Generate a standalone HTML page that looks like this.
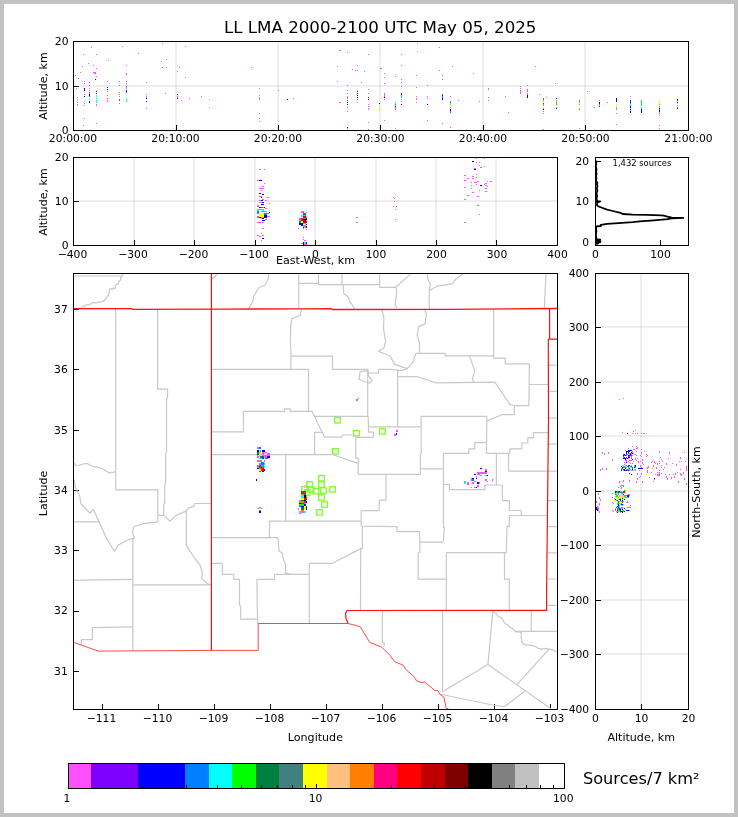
<!DOCTYPE html>
<html lang="en"><head><meta charset="utf-8"><title>LL LMA 2000-2100 UTC May 05, 2025</title>
<style>html,body{margin:0;padding:0;background:#c2c2c2;}body{width:738px;height:817px;overflow:hidden;position:relative;}#fig{position:absolute;left:4px;top:4px;width:730px;height:809px;background:#fff;}svg{position:absolute;left:0;top:0;will-change:transform;}svg text{font-family:"DejaVu Sans","Liberation Sans",sans-serif;fill:#000;}</style></head><body>
<div id="fig"></div>
<svg width="738" height="817" viewBox="0 0 738 817">
<text x="380.2" y="32.8" font-size="16.67" text-anchor="middle" >LL LMA 2000-2100 UTC May 05, 2025</text>
<line x1="176.00" y1="42.0" x2="176.00" y2="130.0" stroke="rgba(0,0,0,0.068)" stroke-width="2"/>
<line x1="278.00" y1="42.0" x2="278.00" y2="130.0" stroke="rgba(0,0,0,0.068)" stroke-width="2"/>
<line x1="380.00" y1="42.0" x2="380.00" y2="130.0" stroke="rgba(0,0,0,0.068)" stroke-width="2"/>
<line x1="483.00" y1="42.0" x2="483.00" y2="130.0" stroke="rgba(0,0,0,0.068)" stroke-width="2"/>
<line x1="585.00" y1="42.0" x2="585.00" y2="130.0" stroke="rgba(0,0,0,0.068)" stroke-width="2"/>
<line x1="79.0" y1="86.00" x2="688.0" y2="86.00" stroke="rgba(0,0,0,0.068)" stroke-width="2"/>
<g shape-rendering="crispEdges">
<rect x="77" y="97" width="1" height="1" fill="#ff50ff"/>
<rect x="77" y="99" width="1" height="1" fill="#00ffff"/>
<rect x="77" y="102" width="1" height="1" fill="#ff50ff"/>
<rect x="77" y="104" width="1" height="2" fill="#ff50ff"/>
<rect x="84" y="88" width="1" height="2" fill="#0000ff"/>
<rect x="84" y="90" width="1" height="1" fill="#0000ff"/>
<rect x="84" y="94" width="1" height="1" fill="#0080ff"/>
<rect x="84" y="96" width="1" height="1" fill="#0000ff"/>
<rect x="84" y="101" width="1" height="1" fill="#00ffff"/>
<rect x="84" y="103" width="1" height="1" fill="#ff50ff"/>
<rect x="84" y="105" width="1" height="1" fill="#ff50ff"/>
<rect x="84" y="81" width="1" height="1" fill="#ff50ff"/>
<rect x="84" y="83" width="1" height="1" fill="#ff50ff"/>
<rect x="89" y="88" width="1" height="1" fill="#ff50ff"/>
<rect x="89" y="90" width="1" height="1" fill="#ff50ff"/>
<rect x="89" y="92" width="1" height="2" fill="#ff50ff"/>
<rect x="89" y="94" width="1" height="2" fill="#0000ff"/>
<rect x="89" y="96" width="1" height="1" fill="#0080ff"/>
<rect x="89" y="99" width="1" height="1" fill="#00ffff"/>
<rect x="89" y="101" width="1" height="2" fill="#0000ff"/>
<rect x="89" y="82" width="1" height="1" fill="#ff50ff"/>
<rect x="89" y="85" width="1" height="1" fill="#ff50ff"/>
<rect x="96" y="91" width="1" height="1" fill="#0000ff"/>
<rect x="96" y="93" width="1" height="1" fill="#0000ff"/>
<rect x="96" y="95" width="1" height="2" fill="#00ffff"/>
<rect x="96" y="98" width="1" height="1" fill="#00ff00"/>
<rect x="96" y="100" width="1" height="2" fill="#00ffff"/>
<rect x="96" y="102" width="1" height="1" fill="#00ffff"/>
<rect x="96" y="104" width="1" height="2" fill="#ff50ff"/>
<rect x="107" y="87" width="1" height="1" fill="#0000ff"/>
<rect x="107" y="89" width="1" height="1" fill="#0000ff"/>
<rect x="107" y="91" width="1" height="1" fill="#ff50ff"/>
<rect x="107" y="95" width="1" height="1" fill="#ff50ff"/>
<rect x="107" y="98" width="1" height="1" fill="#ff50ff"/>
<rect x="107" y="100" width="1" height="2" fill="#ff50ff"/>
<rect x="107" y="81" width="1" height="1" fill="#ff50ff"/>
<rect x="119" y="92" width="1" height="1" fill="#ff50ff"/>
<rect x="119" y="94" width="1" height="1" fill="#ff50ff"/>
<rect x="119" y="96" width="1" height="1" fill="#ff50ff"/>
<rect x="119" y="99" width="1" height="2" fill="#0080ff"/>
<rect x="119" y="103" width="1" height="1" fill="#ff50ff"/>
<rect x="119" y="81" width="1" height="1" fill="#ff50ff"/>
<rect x="119" y="85" width="1" height="1" fill="#ff50ff"/>
<rect x="126" y="86" width="1" height="2" fill="#ff50ff"/>
<rect x="126" y="88" width="1" height="1" fill="#ff50ff"/>
<rect x="126" y="90" width="1" height="2" fill="#0000ff"/>
<rect x="126" y="92" width="1" height="1" fill="#0080ff"/>
<rect x="126" y="97" width="1" height="1" fill="#00ffff"/>
<rect x="126" y="99" width="1" height="2" fill="#00ffff"/>
<rect x="126" y="101" width="1" height="1" fill="#00ffff"/>
<rect x="126" y="65" width="1" height="1" fill="#ff50ff"/>
<rect x="126" y="74" width="1" height="1" fill="#ff50ff"/>
<rect x="126" y="81" width="1" height="1" fill="#ff50ff"/>
<rect x="126" y="83" width="1" height="1" fill="#ff50ff"/>
<rect x="146" y="94" width="1" height="1" fill="#ff50ff"/>
<rect x="146" y="96" width="1" height="2" fill="#ff50ff"/>
<rect x="146" y="98" width="1" height="1" fill="#0000ff"/>
<rect x="146" y="101" width="1" height="1" fill="#0000ff"/>
<rect x="146" y="82" width="1" height="1" fill="#ff50ff"/>
<rect x="146" y="108" width="1" height="1" fill="#ff50ff"/>
<rect x="177" y="94" width="1" height="1" fill="#0000ff"/>
<rect x="177" y="96" width="1" height="2" fill="#ff50ff"/>
<rect x="177" y="98" width="1" height="1" fill="#8000ff"/>
<rect x="259" y="95" width="1" height="1" fill="#ff50ff"/>
<rect x="259" y="97" width="1" height="2" fill="#ff50ff"/>
<rect x="259" y="99" width="1" height="1" fill="#ff50ff"/>
<rect x="259" y="88" width="1" height="1" fill="#ff50ff"/>
<rect x="259" y="113" width="1" height="1" fill="#ff50ff"/>
<rect x="259" y="121" width="1" height="1" fill="#ff50ff"/>
<rect x="347" y="96" width="1" height="2" fill="#ff50ff"/>
<rect x="347" y="98" width="1" height="1" fill="#ff50ff"/>
<rect x="347" y="100" width="1" height="1" fill="#408080"/>
<rect x="347" y="102" width="1" height="1" fill="#0000ff"/>
<rect x="347" y="104" width="1" height="1" fill="#0000ff"/>
<rect x="347" y="107" width="1" height="1" fill="#ff50ff"/>
<rect x="347" y="85" width="1" height="1" fill="#ff50ff"/>
<rect x="347" y="90" width="1" height="1" fill="#ff50ff"/>
<rect x="347" y="93" width="1" height="1" fill="#ff50ff"/>
<rect x="347" y="111" width="1" height="1" fill="#ff50ff"/>
<rect x="357" y="91" width="1" height="1" fill="#0000ff"/>
<rect x="357" y="93" width="1" height="1" fill="#0000ff"/>
<rect x="357" y="95" width="1" height="1" fill="#0000ff"/>
<rect x="357" y="97" width="1" height="1" fill="#0000ff"/>
<rect x="357" y="99" width="1" height="1" fill="#0080ff"/>
<rect x="357" y="102" width="1" height="1" fill="#ff50ff"/>
<rect x="368" y="97" width="1" height="1" fill="#0000ff"/>
<rect x="368" y="99" width="1" height="1" fill="#0000ff"/>
<rect x="368" y="101" width="1" height="1" fill="#ffff00"/>
<rect x="368" y="104" width="1" height="1" fill="#ff50ff"/>
<rect x="368" y="106" width="1" height="1" fill="#ff50ff"/>
<rect x="368" y="108" width="1" height="2" fill="#ff50ff"/>
<rect x="368" y="89" width="1" height="1" fill="#ff50ff"/>
<rect x="368" y="93" width="1" height="1" fill="#ff50ff"/>
<rect x="379" y="103" width="1" height="1" fill="#0000ff"/>
<rect x="379" y="105" width="1" height="1" fill="#ffff00"/>
<rect x="379" y="107" width="1" height="2" fill="#ffff00"/>
<rect x="379" y="109" width="1" height="1" fill="#00ffff"/>
<rect x="384" y="93" width="1" height="2" fill="#ff50ff"/>
<rect x="384" y="95" width="1" height="2" fill="#ff50ff"/>
<rect x="384" y="97" width="1" height="1" fill="#0000ff"/>
<rect x="384" y="99" width="1" height="1" fill="#ff50ff"/>
<rect x="395" y="102" width="1" height="1" fill="#00ffff"/>
<rect x="395" y="103" width="1" height="1" fill="#00ffff"/>
<rect x="395" y="104" width="1" height="1" fill="#00ff00"/>
<rect x="395" y="105" width="1" height="1" fill="#00ff00"/>
<rect x="395" y="106" width="1" height="1" fill="#0000ff"/>
<rect x="395" y="107" width="1" height="1" fill="#ff50ff"/>
<rect x="395" y="108" width="1" height="1" fill="#ff50ff"/>
<rect x="395" y="109" width="1" height="1" fill="#ff50ff"/>
<rect x="401" y="93" width="1" height="2" fill="#0000ff"/>
<rect x="401" y="95" width="1" height="2" fill="#00ff00"/>
<rect x="401" y="97" width="1" height="1" fill="#00ffff"/>
<rect x="401" y="99" width="1" height="1" fill="#ff50ff"/>
<rect x="401" y="101" width="1" height="1" fill="#ff50ff"/>
<rect x="401" y="104" width="1" height="1" fill="#0000ff"/>
<rect x="401" y="79" width="1" height="1" fill="#ff50ff"/>
<rect x="401" y="82" width="1" height="1" fill="#ff50ff"/>
<rect x="401" y="86" width="1" height="1" fill="#ff50ff"/>
<rect x="416" y="96" width="1" height="1" fill="#ff50ff"/>
<rect x="416" y="98" width="1" height="2" fill="#ff50ff"/>
<rect x="416" y="102" width="1" height="1" fill="#ff50ff"/>
<rect x="427" y="96" width="1" height="1" fill="#ff50ff"/>
<rect x="427" y="98" width="1" height="1" fill="#ff50ff"/>
<rect x="427" y="104" width="1" height="1" fill="#0000ff"/>
<rect x="442" y="94" width="1" height="1" fill="#0080ff"/>
<rect x="442" y="95" width="1" height="1" fill="#0000ff"/>
<rect x="442" y="96" width="1" height="1" fill="#0080ff"/>
<rect x="442" y="97" width="1" height="1" fill="#0080ff"/>
<rect x="442" y="98" width="1" height="1" fill="#0000ff"/>
<rect x="442" y="99" width="1" height="1" fill="#0000ff"/>
<rect x="450" y="101" width="1" height="1" fill="#408080"/>
<rect x="450" y="102" width="1" height="1" fill="#408080"/>
<rect x="450" y="103" width="1" height="1" fill="#00ffff"/>
<rect x="450" y="104" width="1" height="1" fill="#00ffff"/>
<rect x="450" y="105" width="1" height="1" fill="#ffff00"/>
<rect x="450" y="106" width="1" height="1" fill="#ffff00"/>
<rect x="450" y="107" width="1" height="1" fill="#ff8000"/>
<rect x="450" y="109" width="1" height="1" fill="#0000ff"/>
<rect x="450" y="110" width="1" height="1" fill="#0000ff"/>
<rect x="450" y="111" width="1" height="1" fill="#0080ff"/>
<rect x="450" y="112" width="1" height="1" fill="#0080ff"/>
<rect x="450" y="96" width="1" height="1" fill="#ff50ff"/>
<rect x="520" y="86" width="1" height="1" fill="#ff50ff"/>
<rect x="520" y="88" width="1" height="1" fill="#ff50ff"/>
<rect x="520" y="90" width="1" height="2" fill="#ff50ff"/>
<rect x="520" y="92" width="1" height="2" fill="#ff50ff"/>
<rect x="527" y="89" width="1" height="1" fill="#ff50ff"/>
<rect x="527" y="90" width="1" height="1" fill="#ff50ff"/>
<rect x="527" y="91" width="1" height="1" fill="#ff50ff"/>
<rect x="527" y="93" width="1" height="1" fill="#ff50ff"/>
<rect x="527" y="94" width="1" height="1" fill="#ff50ff"/>
<rect x="527" y="95" width="1" height="1" fill="#0000ff"/>
<rect x="527" y="96" width="1" height="1" fill="#0000ff"/>
<rect x="527" y="97" width="1" height="1" fill="#0000ff"/>
<rect x="527" y="85" width="1" height="1" fill="#ff50ff"/>
<rect x="543" y="98" width="1" height="1" fill="#408080"/>
<rect x="543" y="99" width="1" height="1" fill="#408080"/>
<rect x="543" y="100" width="1" height="1" fill="#00ff00"/>
<rect x="543" y="101" width="1" height="1" fill="#ffff00"/>
<rect x="543" y="102" width="1" height="1" fill="#ffff00"/>
<rect x="543" y="103" width="1" height="1" fill="#ff0000"/>
<rect x="543" y="104" width="1" height="1" fill="#ff8000"/>
<rect x="543" y="105" width="1" height="1" fill="#ff8000"/>
<rect x="543" y="106" width="1" height="1" fill="#ffff00"/>
<rect x="543" y="108" width="1" height="1" fill="#00ffff"/>
<rect x="543" y="109" width="1" height="1" fill="#0000ff"/>
<rect x="543" y="111" width="1" height="1" fill="#ff50ff"/>
<rect x="543" y="113" width="1" height="1" fill="#ff50ff"/>
<rect x="556" y="98" width="1" height="1" fill="#0000ff"/>
<rect x="556" y="100" width="1" height="1" fill="#00ffff"/>
<rect x="556" y="101" width="1" height="1" fill="#00ffff"/>
<rect x="556" y="102" width="1" height="1" fill="#ff8000"/>
<rect x="556" y="103" width="1" height="1" fill="#ff8000"/>
<rect x="556" y="104" width="1" height="1" fill="#ff8000"/>
<rect x="556" y="105" width="1" height="1" fill="#ffff00"/>
<rect x="556" y="107" width="1" height="1" fill="#00ffff"/>
<rect x="556" y="108" width="1" height="1" fill="#0000ff"/>
<rect x="579" y="100" width="1" height="1" fill="#ff50ff"/>
<rect x="579" y="101" width="1" height="1" fill="#ff50ff"/>
<rect x="579" y="102" width="1" height="1" fill="#ff50ff"/>
<rect x="579" y="103" width="1" height="1" fill="#ffff00"/>
<rect x="579" y="104" width="1" height="1" fill="#00ff00"/>
<rect x="579" y="106" width="1" height="1" fill="#ffff00"/>
<rect x="579" y="108" width="1" height="1" fill="#00ff00"/>
<rect x="579" y="109" width="1" height="1" fill="#ff50ff"/>
<rect x="599" y="100" width="1" height="1" fill="#ff50ff"/>
<rect x="599" y="102" width="1" height="2" fill="#0000ff"/>
<rect x="599" y="104" width="1" height="2" fill="#00ff00"/>
<rect x="599" y="106" width="1" height="1" fill="#008040"/>
<rect x="616" y="98" width="1" height="1" fill="#0000ff"/>
<rect x="616" y="99" width="1" height="1" fill="#0000ff"/>
<rect x="616" y="100" width="1" height="1" fill="#0000ff"/>
<rect x="616" y="101" width="1" height="1" fill="#0000ff"/>
<rect x="616" y="103" width="1" height="1" fill="#ffff00"/>
<rect x="616" y="104" width="1" height="1" fill="#ffff00"/>
<rect x="616" y="105" width="1" height="1" fill="#ffff00"/>
<rect x="616" y="106" width="1" height="1" fill="#ffff00"/>
<rect x="616" y="107" width="1" height="1" fill="#00ffff"/>
<rect x="616" y="108" width="1" height="1" fill="#ff50ff"/>
<rect x="616" y="109" width="1" height="1" fill="#ff50ff"/>
<rect x="616" y="113" width="1" height="1" fill="#ff50ff"/>
<rect x="630" y="100" width="1" height="1" fill="#0000ff"/>
<rect x="630" y="101" width="1" height="1" fill="#408080"/>
<rect x="630" y="102" width="1" height="1" fill="#0000ff"/>
<rect x="630" y="103" width="1" height="1" fill="#408080"/>
<rect x="630" y="104" width="1" height="1" fill="#00ffff"/>
<rect x="630" y="105" width="1" height="1" fill="#00ffff"/>
<rect x="630" y="106" width="1" height="1" fill="#0000ff"/>
<rect x="630" y="107" width="1" height="1" fill="#0000ff"/>
<rect x="630" y="108" width="1" height="1" fill="#00ffff"/>
<rect x="630" y="109" width="1" height="1" fill="#0000ff"/>
<rect x="630" y="110" width="1" height="1" fill="#ff50ff"/>
<rect x="630" y="111" width="1" height="1" fill="#0000ff"/>
<rect x="630" y="112" width="1" height="1" fill="#0000ff"/>
<rect x="630" y="96" width="1" height="1" fill="#ff50ff"/>
<rect x="641" y="100" width="1" height="1" fill="#00ff00"/>
<rect x="641" y="101" width="1" height="1" fill="#00ff00"/>
<rect x="641" y="102" width="1" height="1" fill="#00ff00"/>
<rect x="641" y="103" width="1" height="1" fill="#00ff00"/>
<rect x="641" y="104" width="1" height="1" fill="#00ff00"/>
<rect x="641" y="105" width="1" height="1" fill="#00ffff"/>
<rect x="641" y="107" width="1" height="1" fill="#00ffff"/>
<rect x="641" y="108" width="1" height="1" fill="#00ffff"/>
<rect x="641" y="109" width="1" height="1" fill="#0000ff"/>
<rect x="641" y="110" width="1" height="1" fill="#0000ff"/>
<rect x="641" y="111" width="1" height="1" fill="#0000ff"/>
<rect x="641" y="112" width="1" height="1" fill="#0000ff"/>
<rect x="659" y="100" width="1" height="1" fill="#ffff00"/>
<rect x="659" y="101" width="1" height="1" fill="#ffff00"/>
<rect x="659" y="102" width="1" height="1" fill="#ffff00"/>
<rect x="659" y="103" width="1" height="1" fill="#ffff00"/>
<rect x="659" y="104" width="1" height="1" fill="#ff8000"/>
<rect x="659" y="105" width="1" height="1" fill="#ffff00"/>
<rect x="659" y="106" width="1" height="1" fill="#ff8000"/>
<rect x="659" y="107" width="1" height="1" fill="#00ffff"/>
<rect x="659" y="108" width="1" height="1" fill="#0000ff"/>
<rect x="659" y="109" width="1" height="1" fill="#0080ff"/>
<rect x="659" y="110" width="1" height="1" fill="#0000ff"/>
<rect x="659" y="111" width="1" height="1" fill="#0000ff"/>
<rect x="659" y="112" width="1" height="1" fill="#ff50ff"/>
<rect x="659" y="113" width="1" height="1" fill="#ff50ff"/>
<rect x="659" y="115" width="1" height="1" fill="#ff50ff"/>
<rect x="677" y="99" width="1" height="1" fill="#0000ff"/>
<rect x="677" y="100" width="1" height="1" fill="#0000ff"/>
<rect x="677" y="101" width="1" height="1" fill="#ffff00"/>
<rect x="677" y="102" width="1" height="1" fill="#0000ff"/>
<rect x="677" y="103" width="1" height="1" fill="#ffff00"/>
<rect x="677" y="105" width="1" height="1" fill="#00ffff"/>
<rect x="677" y="107" width="1" height="1" fill="#ff50ff"/>
<rect x="677" y="108" width="1" height="1" fill="#0000ff"/>
<rect x="75" y="75" width="1" height="1" fill="#ff50ff"/>
<rect x="76" y="88" width="1" height="1" fill="#ff50ff"/>
<rect x="78" y="78" width="1" height="1" fill="#ff50ff"/>
<rect x="80" y="72" width="1" height="1" fill="#ff50ff"/>
<rect x="83" y="54" width="1" height="1" fill="#ff50ff"/>
<rect x="82" y="66" width="1" height="1" fill="#ff50ff"/>
<rect x="88" y="63" width="1" height="1" fill="#ff50ff"/>
<rect x="91" y="47" width="1" height="1" fill="#ff50ff"/>
<rect x="93" y="65" width="1" height="1" fill="#ff50ff"/>
<rect x="96" y="54" width="1" height="1" fill="#ff50ff"/>
<rect x="96" y="68" width="1" height="1" fill="#ff50ff"/>
<rect x="96" y="76" width="1" height="1" fill="#ff50ff"/>
<rect x="94" y="72" width="1" height="1" fill="#ff50ff"/>
<rect x="95" y="73" width="1" height="1" fill="#ff50ff"/>
<rect x="93" y="72" width="1" height="1" fill="#ff50ff"/>
<rect x="108" y="60" width="1" height="1" fill="#ff50ff"/>
<rect x="122" y="46" width="1" height="1" fill="#ff50ff"/>
<rect x="126" y="73" width="1" height="1" fill="#ff50ff"/>
<rect x="138" y="53" width="1" height="1" fill="#ff50ff"/>
<rect x="161" y="61" width="1" height="1" fill="#ff50ff"/>
<rect x="162" y="67" width="1" height="1" fill="#ff50ff"/>
<rect x="166" y="59" width="1" height="1" fill="#ff50ff"/>
<rect x="166" y="67" width="1" height="1" fill="#ff50ff"/>
<rect x="162" y="43" width="1" height="1" fill="#ff50ff"/>
<rect x="185" y="46" width="1" height="1" fill="#ff50ff"/>
<rect x="179" y="67" width="1" height="1" fill="#ff50ff"/>
<rect x="177" y="71" width="1" height="1" fill="#ff50ff"/>
<rect x="185" y="77" width="1" height="1" fill="#ff50ff"/>
<rect x="181" y="100" width="1" height="1" fill="#ff50ff"/>
<rect x="189" y="98" width="1" height="1" fill="#ff50ff"/>
<rect x="201" y="96" width="1" height="1" fill="#ff50ff"/>
<rect x="209" y="99" width="1" height="1" fill="#ff50ff"/>
<rect x="209" y="107" width="1" height="1" fill="#ff50ff"/>
<rect x="251" y="67" width="1" height="1" fill="#ff50ff"/>
<rect x="278" y="90" width="1" height="1" fill="#ff50ff"/>
<rect x="165" y="93" width="1" height="1" fill="#ff50ff"/>
<rect x="84" y="118" width="1" height="1" fill="#ff50ff"/>
<rect x="83" y="125" width="1" height="1" fill="#ff50ff"/>
<rect x="96" y="123" width="1" height="1" fill="#ff50ff"/>
<rect x="259" y="118" width="1" height="1" fill="#ff50ff"/>
<rect x="259" y="121" width="1" height="1" fill="#ff50ff"/>
<rect x="293" y="98" width="1" height="1" fill="#ff50ff"/>
<rect x="339" y="50" width="1" height="1" fill="#ff50ff"/>
<rect x="340" y="50" width="1" height="1" fill="#ff50ff"/>
<rect x="347" y="52" width="1" height="1" fill="#ff50ff"/>
<rect x="337" y="66" width="1" height="1" fill="#ff50ff"/>
<rect x="337" y="81" width="1" height="1" fill="#ff50ff"/>
<rect x="352" y="69" width="1" height="1" fill="#ff50ff"/>
<rect x="355" y="70" width="1" height="1" fill="#ff50ff"/>
<rect x="357" y="70" width="1" height="1" fill="#ff50ff"/>
<rect x="357" y="65" width="1" height="1" fill="#ff50ff"/>
<rect x="364" y="71" width="1" height="1" fill="#ff50ff"/>
<rect x="361" y="82" width="1" height="1" fill="#ff50ff"/>
<rect x="368" y="54" width="1" height="1" fill="#ff50ff"/>
<rect x="368" y="122" width="1" height="1" fill="#ff50ff"/>
<rect x="368" y="129" width="1" height="1" fill="#ff50ff"/>
<rect x="380" y="68" width="1" height="1" fill="#ff50ff"/>
<rect x="381" y="68" width="1" height="1" fill="#ff50ff"/>
<rect x="384" y="73" width="1" height="1" fill="#ff50ff"/>
<rect x="384" y="77" width="1" height="1" fill="#ff50ff"/>
<rect x="384" y="83" width="1" height="1" fill="#ff50ff"/>
<rect x="395" y="76" width="1" height="1" fill="#ff50ff"/>
<rect x="401" y="54" width="1" height="1" fill="#ff50ff"/>
<rect x="401" y="65" width="1" height="1" fill="#ff50ff"/>
<rect x="401" y="79" width="1" height="1" fill="#ff50ff"/>
<rect x="401" y="82" width="1" height="1" fill="#ff50ff"/>
<rect x="417" y="43" width="1" height="1" fill="#ff50ff"/>
<rect x="417" y="51" width="1" height="1" fill="#ff50ff"/>
<rect x="416" y="75" width="1" height="1" fill="#ff50ff"/>
<rect x="416" y="87" width="1" height="1" fill="#ff50ff"/>
<rect x="427" y="85" width="1" height="1" fill="#ff50ff"/>
<rect x="439" y="47" width="1" height="1" fill="#ff50ff"/>
<rect x="439" y="70" width="1" height="1" fill="#ff50ff"/>
<rect x="442" y="75" width="1" height="1" fill="#ff50ff"/>
<rect x="442" y="79" width="1" height="1" fill="#ff50ff"/>
<rect x="452" y="66" width="1" height="1" fill="#ff50ff"/>
<rect x="473" y="73" width="1" height="1" fill="#ff50ff"/>
<rect x="479" y="101" width="1" height="1" fill="#ff50ff"/>
<rect x="488" y="88" width="1" height="1" fill="#ff50ff"/>
<rect x="488" y="97" width="1" height="1" fill="#ff50ff"/>
<rect x="488" y="100" width="1" height="1" fill="#ff50ff"/>
<rect x="384" y="120" width="1" height="1" fill="#ff50ff"/>
<rect x="427" y="120" width="1" height="1" fill="#ff50ff"/>
<rect x="442" y="123" width="1" height="1" fill="#ff50ff"/>
<rect x="450" y="127" width="1" height="1" fill="#ff50ff"/>
<rect x="488" y="89" width="1" height="1" fill="#ff50ff"/>
<rect x="508" y="112" width="1" height="1" fill="#ff50ff"/>
<rect x="535" y="66" width="1" height="1" fill="#ff50ff"/>
<rect x="555" y="83" width="1" height="1" fill="#ff50ff"/>
<rect x="587" y="91" width="1" height="1" fill="#ff50ff"/>
<rect x="594" y="107" width="1" height="1" fill="#ff50ff"/>
<rect x="607" y="102" width="1" height="1" fill="#ff50ff"/>
<rect x="630" y="96" width="1" height="1" fill="#ff50ff"/>
<rect x="616" y="113" width="1" height="1" fill="#ff50ff"/>
<rect x="616" y="124" width="1" height="1" fill="#ff50ff"/>
<rect x="659" y="125" width="1" height="1" fill="#ff50ff"/>
<rect x="659" y="128" width="1" height="1" fill="#ff50ff"/>
<rect x="659" y="130" width="1" height="1" fill="#ff50ff"/>
<rect x="543" y="129" width="1" height="1" fill="#ff50ff"/>
<rect x="579" y="128" width="1" height="1" fill="#ff50ff"/>
<rect x="347" y="128" width="1" height="1" fill="#ff50ff"/>
<rect x="339" y="102" width="1" height="1" fill="#ff50ff"/>
<rect x="340" y="102" width="1" height="1" fill="#ff50ff"/>
<rect x="450" y="96" width="1" height="1" fill="#ff50ff"/>
<rect x="458" y="100" width="1" height="1" fill="#ff50ff"/>
<rect x="505" y="96" width="1" height="1" fill="#ff50ff"/>
<rect x="539" y="94" width="1" height="1" fill="#ff50ff"/>
<rect x="546" y="97" width="1" height="1" fill="#ff50ff"/>
<rect x="94" y="72" width="2" height="2" fill="#ff50ff"/>
<rect x="95" y="79" width="1" height="1" fill="#0000ff"/>
<rect x="287" y="99" width="1" height="1" fill="#0000ff"/>
<rect x="347" y="127" width="1" height="1" fill="#0000ff"/>
<rect x="395" y="128" width="1" height="1" fill="#00ff00"/>
</g>
<rect x="73.5" y="41.5" width="615" height="89" fill="none" stroke="#000" stroke-width="1" shape-rendering="crispEdges"/>
<text x="73.0" y="142.3" font-size="10.75" text-anchor="middle" >20:00:00</text>
<rect x="176" y="125" width="1" height="5" fill="#000"/>
<text x="175.5" y="142.3" font-size="10.75" text-anchor="middle" >20:10:00</text>
<rect x="278" y="125" width="1" height="5" fill="#000"/>
<text x="278.0" y="142.3" font-size="10.75" text-anchor="middle" >20:20:00</text>
<rect x="380" y="125" width="1" height="5" fill="#000"/>
<text x="380.5" y="142.3" font-size="10.75" text-anchor="middle" >20:30:00</text>
<rect x="483" y="125" width="1" height="5" fill="#000"/>
<text x="483.0" y="142.3" font-size="10.75" text-anchor="middle" >20:40:00</text>
<rect x="585" y="125" width="1" height="5" fill="#000"/>
<text x="585.5" y="142.3" font-size="10.75" text-anchor="middle" >20:50:00</text>
<text x="688.5" y="142.3" font-size="10.75" text-anchor="middle" >21:00:00</text>
<text x="68.5" y="44.9" font-size="10.75" text-anchor="end" >20</text>
<rect x="73" y="86" width="6" height="1" fill="#000"/>
<text x="68.5" y="89.5" font-size="10.75" text-anchor="end" >10</text>
<text x="68.5" y="133.9" font-size="10.75" text-anchor="end" >0</text>
<text x="47.0" y="86.0" font-size="11.1" text-anchor="middle" transform="rotate(-90 47.0 86.0)" >Altitude, km</text>
<line x1="134.00" y1="158.0" x2="134.00" y2="245.0" stroke="rgba(0,0,0,0.068)" stroke-width="2"/>
<line x1="194.00" y1="158.0" x2="194.00" y2="245.0" stroke="rgba(0,0,0,0.068)" stroke-width="2"/>
<line x1="255.00" y1="158.0" x2="255.00" y2="245.0" stroke="rgba(0,0,0,0.068)" stroke-width="2"/>
<line x1="315.00" y1="158.0" x2="315.00" y2="245.0" stroke="rgba(0,0,0,0.068)" stroke-width="2"/>
<line x1="376.00" y1="158.0" x2="376.00" y2="245.0" stroke="rgba(0,0,0,0.068)" stroke-width="2"/>
<line x1="436.00" y1="158.0" x2="436.00" y2="245.0" stroke="rgba(0,0,0,0.068)" stroke-width="2"/>
<line x1="496.00" y1="158.0" x2="496.00" y2="245.0" stroke="rgba(0,0,0,0.068)" stroke-width="2"/>
<line x1="79.0" y1="201.00" x2="557.0" y2="201.00" stroke="rgba(0,0,0,0.068)" stroke-width="2"/>
<rect x="334.6" y="417.6" width="5.6" height="5.4" fill="none" stroke="#7dff20" stroke-width="1.3"/>
<rect x="353.6" y="430.6" width="5.6" height="5.4" fill="none" stroke="#7dff20" stroke-width="1.3"/>
<rect x="379.6" y="428.7" width="5.6" height="5.4" fill="none" stroke="#7dff20" stroke-width="1.3"/>
<rect x="332.6" y="448.7" width="5.6" height="5.4" fill="none" stroke="#7dff20" stroke-width="1.3"/>
<rect x="318.7" y="475.5" width="5.6" height="5.4" fill="none" stroke="#7dff20" stroke-width="1.3"/>
<rect x="306.7" y="481.7" width="5.6" height="5.4" fill="none" stroke="#7dff20" stroke-width="1.3"/>
<rect x="318.7" y="481.8" width="5.6" height="5.4" fill="none" stroke="#7dff20" stroke-width="1.3"/>
<rect x="301.7" y="486.6" width="5.6" height="5.4" fill="none" stroke="#7dff20" stroke-width="1.3"/>
<rect x="304.5" y="489.7" width="5.6" height="5.4" fill="none" stroke="#7dff20" stroke-width="1.3"/>
<rect x="308.4" y="486.7" width="5.6" height="5.4" fill="none" stroke="#7dff20" stroke-width="1.3"/>
<rect x="313.1" y="488.5" width="5.6" height="5.4" fill="none" stroke="#7dff20" stroke-width="1.3"/>
<rect x="320.7" y="487.8" width="5.6" height="5.4" fill="none" stroke="#7dff20" stroke-width="1.3"/>
<rect x="329.7" y="486.7" width="5.6" height="5.4" fill="none" stroke="#7dff20" stroke-width="1.3"/>
<rect x="318.7" y="494.7" width="5.6" height="5.4" fill="none" stroke="#7dff20" stroke-width="1.3"/>
<rect x="321.7" y="501.8" width="5.6" height="5.4" fill="none" stroke="#7dff20" stroke-width="1.3"/>
<rect x="316.6" y="509.7" width="5.6" height="5.4" fill="none" stroke="#7dff20" stroke-width="1.3"/>
<g shape-rendering="crispEdges">
<rect x="259.0" y="169.0" width="2.0" height="1.0" fill="#ff50ff"/>
<rect x="264.0" y="169.0" width="1.0" height="1.0" fill="#ff50ff"/>
<rect x="257.0" y="180.0" width="2.0" height="1.0" fill="#ff50ff"/>
<rect x="259.0" y="180.0" width="3.0" height="1.0" fill="#0000ff"/>
<rect x="264.0" y="183.0" width="1.0" height="1.0" fill="#ff50ff"/>
<rect x="262.0" y="186.0" width="2.0" height="1.0" fill="#ff50ff"/>
<rect x="259.0" y="188.0" width="5.0" height="1.0" fill="#ff50ff"/>
<rect x="261.0" y="190.0" width="1.0" height="1.0" fill="#ff50ff"/>
<rect x="259.0" y="193.0" width="2.0" height="1.0" fill="#0000ff"/>
<rect x="262.0" y="194.0" width="2.0" height="1.0" fill="#0000ff"/>
<rect x="259.0" y="196.0" width="3.0" height="1.0" fill="#ff50ff"/>
<rect x="261.0" y="197.0" width="1.0" height="1.0" fill="#0000ff"/>
<rect x="267.0" y="197.0" width="2.0" height="1.0" fill="#ff50ff"/>
<rect x="262.0" y="199.0" width="2.0" height="1.0" fill="#ff50ff"/>
<rect x="259.0" y="200.0" width="2.0" height="1.0" fill="#ff50ff"/>
<rect x="261.0" y="200.0" width="2.0" height="1.0" fill="#0000ff"/>
<rect x="265.0" y="200.0" width="2.0" height="1.0" fill="#ff50ff"/>
<rect x="262.0" y="202.0" width="2.0" height="1.0" fill="#0000ff"/>
<rect x="259.0" y="202.0" width="3.0" height="1.0" fill="#ff50ff"/>
<rect x="269.0" y="203.0" width="1.0" height="1.0" fill="#ff50ff"/>
<rect x="261.0" y="204.0" width="3.0" height="1.0" fill="#0000ff"/>
<rect x="257.0" y="205.0" width="2.0" height="2.0" fill="#ff50ff"/>
<rect x="259.0" y="207.0" width="2.0" height="1.0" fill="#0000ff"/>
<rect x="261.0" y="207.0" width="2.0" height="1.0" fill="#0080ff"/>
<rect x="263.0" y="207.0" width="1.0" height="1.0" fill="#00ffff"/>
<rect x="264.0" y="207.0" width="1.0" height="1.0" fill="#0000ff"/>
<rect x="265.0" y="208.0" width="2.0" height="1.0" fill="#ff50ff"/>
<rect x="257.0" y="209.0" width="2.0" height="2.0" fill="#00ffff"/>
<rect x="259.0" y="209.0" width="3.0" height="1.0" fill="#00ff00"/>
<rect x="262.0" y="209.0" width="2.0" height="2.0" fill="#00ffff"/>
<rect x="257.0" y="211.0" width="2.0" height="2.0" fill="#0080ff"/>
<rect x="259.0" y="211.0" width="2.0" height="1.0" fill="#ffff00"/>
<rect x="261.0" y="211.0" width="3.0" height="1.0" fill="#00ff00"/>
<rect x="264.0" y="211.0" width="3.0" height="1.0" fill="#ff50ff"/>
<rect x="269.0" y="212.0" width="1.0" height="1.0" fill="#0000ff"/>
<rect x="257.0" y="213.0" width="2.0" height="1.0" fill="#00ff00"/>
<rect x="259.0" y="213.0" width="5.0" height="4.0" fill="#ffff00"/>
<rect x="264.0" y="213.0" width="3.0" height="2.0" fill="#0080ff"/>
<rect x="267.0" y="213.0" width="2.0" height="1.0" fill="#ff50ff"/>
<rect x="257.0" y="216.0" width="2.0" height="2.0" fill="#ff50ff"/>
<rect x="259.0" y="217.0" width="2.0" height="1.0" fill="#0000ff"/>
<rect x="261.0" y="217.0" width="3.0" height="1.0" fill="#00ff00"/>
<rect x="264.0" y="215.0" width="3.0" height="3.0" fill="#0000ff"/>
<rect x="267.0" y="216.0" width="3.0" height="1.0" fill="#ff50ff"/>
<rect x="261.0" y="218.0" width="1.0" height="1.0" fill="#ff50ff"/>
<rect x="262.0" y="218.0" width="2.0" height="1.0" fill="#0000ff"/>
<rect x="262.0" y="220.0" width="3.0" height="1.0" fill="#0000ff"/>
<rect x="265.0" y="219.0" width="2.0" height="1.0" fill="#ff50ff"/>
<rect x="257.0" y="222.0" width="4.0" height="1.0" fill="#ff50ff"/>
<rect x="262.0" y="222.0" width="2.0" height="1.0" fill="#ff50ff"/>
<rect x="262.0" y="228.0" width="2.0" height="1.0" fill="#ff50ff"/>
<rect x="261.0" y="233.0" width="1.0" height="1.0" fill="#ff50ff"/>
<rect x="257.0" y="235.0" width="2.0" height="1.0" fill="#ff50ff"/>
<rect x="262.0" y="235.0" width="2.0" height="1.0" fill="#ff50ff"/>
<rect x="259.0" y="236.0" width="2.0" height="1.0" fill="#ff50ff"/>
<rect x="262.0" y="238.0" width="2.0" height="1.0" fill="#0000ff"/>
<rect x="261.0" y="240.0" width="1.0" height="1.0" fill="#ff50ff"/>
<rect x="301.0" y="211.0" width="3.0" height="2.0" fill="#ff50ff"/>
<rect x="306.0" y="212.0" width="1.0" height="1.0" fill="#ff50ff"/>
<rect x="303.0" y="213.0" width="2.0" height="2.0" fill="#008040"/>
<rect x="305.0" y="213.0" width="1.0" height="2.0" fill="#0080ff"/>
<rect x="301.0" y="215.0" width="2.0" height="2.0" fill="#00ffff"/>
<rect x="301.0" y="217.0" width="2.0" height="1.0" fill="#ffff00"/>
<rect x="303.0" y="215.0" width="3.0" height="1.0" fill="#ff8000"/>
<rect x="303.0" y="216.0" width="3.0" height="2.0" fill="#ff0000"/>
<rect x="306.0" y="216.0" width="1.0" height="2.0" fill="#00ffff"/>
<rect x="299.0" y="218.0" width="2.0" height="2.0" fill="#ff50ff"/>
<rect x="301.0" y="218.0" width="2.0" height="2.0" fill="#ff0080"/>
<rect x="303.0" y="218.0" width="3.0" height="1.0" fill="#808080"/>
<rect x="303.0" y="219.0" width="3.0" height="1.0" fill="#000000"/>
<rect x="306.0" y="218.0" width="1.0" height="2.0" fill="#0000ff"/>
<rect x="299.0" y="220.0" width="2.0" height="1.0" fill="#00ff00"/>
<rect x="301.0" y="220.0" width="2.0" height="1.0" fill="#ff0000"/>
<rect x="303.0" y="220.0" width="3.0" height="1.0" fill="#c00000"/>
<rect x="306.0" y="220.0" width="1.0" height="1.0" fill="#ff50ff"/>
<rect x="299.0" y="221.0" width="2.0" height="2.0" fill="#0080ff"/>
<rect x="301.0" y="221.0" width="2.0" height="2.0" fill="#ffff00"/>
<rect x="303.0" y="221.0" width="3.0" height="1.0" fill="#800000"/>
<rect x="303.0" y="222.0" width="3.0" height="1.0" fill="#ff0000"/>
<rect x="306.0" y="221.0" width="1.0" height="2.0" fill="#008040"/>
<rect x="299.0" y="223.0" width="4.0" height="2.0" fill="#0000ff"/>
<rect x="301.0" y="223.0" width="2.0" height="3.0" fill="#0000ff"/>
<rect x="303.0" y="223.0" width="3.0" height="1.0" fill="#ff8000"/>
<rect x="303.0" y="224.0" width="3.0" height="1.0" fill="#ffff00"/>
<rect x="303.0" y="225.0" width="3.0" height="1.0" fill="#00ff00"/>
<rect x="306.0" y="224.0" width="1.0" height="1.0" fill="#0000ff"/>
<rect x="303.0" y="226.0" width="1.0" height="1.0" fill="#00ffff"/>
<rect x="304.0" y="226.0" width="2.0" height="1.0" fill="#ff50ff"/>
<rect x="303.0" y="227.0" width="1.0" height="1.0" fill="#0000ff"/>
<rect x="304.0" y="227.0" width="2.0" height="1.0" fill="#00ffff"/>
<rect x="306.0" y="226.0" width="1.0" height="2.0" fill="#0000ff"/>
<rect x="298.0" y="228.0" width="1.0" height="1.0" fill="#ff50ff"/>
<rect x="303.0" y="228.0" width="1.0" height="1.0" fill="#ff50ff"/>
<rect x="306.0" y="229.0" width="1.0" height="1.0" fill="#ff50ff"/>
<rect x="303.0" y="237.0" width="1.0" height="1.0" fill="#ff50ff"/>
<rect x="303.0" y="239.0" width="1.0" height="1.0" fill="#ff50ff"/>
<rect x="304.0" y="240.0" width="2.0" height="1.0" fill="#ff50ff"/>
<rect x="303.0" y="242.0" width="1.0" height="2.0" fill="#0000ff"/>
<rect x="304.0" y="242.0" width="2.0" height="2.0" fill="#00ffff"/>
<rect x="306.0" y="242.0" width="1.0" height="2.0" fill="#0000ff"/>
<rect x="301.0" y="243.0" width="2.0" height="1.0" fill="#ff50ff"/>
<rect x="303.0" y="244.0" width="1.0" height="1.0" fill="#0000ff"/>
<rect x="304.0" y="244.0" width="3.0" height="1.0" fill="#ff50ff"/>
<rect x="356" y="217" width="1" height="1" fill="#ff50ff"/>
<rect x="357" y="217" width="1" height="1" fill="#ff50ff"/>
<rect x="356" y="222" width="1" height="1" fill="#ff50ff"/>
<rect x="357" y="222" width="1" height="1" fill="#ff50ff"/>
<rect x="393" y="197" width="1" height="1" fill="#ff50ff"/>
<rect x="394" y="198" width="1" height="1" fill="#ff50ff"/>
<rect x="394" y="201" width="1" height="1" fill="#ff50ff"/>
<rect x="393" y="206" width="1" height="1" fill="#ff50ff"/>
<rect x="396" y="206" width="1" height="1" fill="#ff50ff"/>
<rect x="395" y="209" width="1" height="1" fill="#ff50ff"/>
<rect x="395" y="219" width="1" height="1" fill="#ff50ff"/>
<rect x="476.0" y="158.0" width="1.0" height="1.0" fill="#ff50ff"/>
<rect x="484.0" y="158.0" width="1.0" height="1.0" fill="#ff50ff"/>
<rect x="472.0" y="161.0" width="2.0" height="1.0" fill="#0000ff"/>
<rect x="476.0" y="162.0" width="1.0" height="1.0" fill="#ff50ff"/>
<rect x="479.0" y="162.0" width="1.0" height="1.0" fill="#ff50ff"/>
<rect x="479.0" y="165.0" width="1.0" height="1.0" fill="#ff50ff"/>
<rect x="484.0" y="166.0" width="1.0" height="1.0" fill="#ff50ff"/>
<rect x="480.0" y="167.0" width="2.0" height="1.0" fill="#ff50ff"/>
<rect x="474.0" y="168.0" width="2.0" height="1.0" fill="#ff50ff"/>
<rect x="474.0" y="169.0" width="2.0" height="1.0" fill="#0000ff"/>
<rect x="476.0" y="174.0" width="1.0" height="1.0" fill="#ff50ff"/>
<rect x="464.0" y="175.0" width="2.0" height="1.0" fill="#ff50ff"/>
<rect x="472.0" y="176.0" width="2.0" height="1.0" fill="#ff50ff"/>
<rect x="476.0" y="177.0" width="1.0" height="1.0" fill="#ff50ff"/>
<rect x="467.0" y="178.0" width="2.0" height="1.0" fill="#ff50ff"/>
<rect x="472.0" y="178.0" width="2.0" height="1.0" fill="#ff50ff"/>
<rect x="464.0" y="180.0" width="2.0" height="1.0" fill="#ff50ff"/>
<rect x="477.0" y="181.0" width="2.0" height="1.0" fill="#ff50ff"/>
<rect x="487.0" y="181.0" width="1.0" height="1.0" fill="#ff50ff"/>
<rect x="490.0" y="181.0" width="2.0" height="1.0" fill="#ff50ff"/>
<rect x="471.0" y="182.0" width="1.0" height="1.0" fill="#ff50ff"/>
<rect x="474.0" y="182.0" width="3.0" height="1.0" fill="#ff50ff"/>
<rect x="485.0" y="183.0" width="2.0" height="1.0" fill="#ff50ff"/>
<rect x="476.0" y="184.0" width="1.0" height="1.0" fill="#ff50ff"/>
<rect x="484.0" y="184.0" width="1.0" height="1.0" fill="#ff50ff"/>
<rect x="480.0" y="185.0" width="2.0" height="1.0" fill="#0000ff"/>
<rect x="471.0" y="185.0" width="1.0" height="1.0" fill="#ff50ff"/>
<rect x="485.0" y="185.0" width="2.0" height="1.0" fill="#ff50ff"/>
<rect x="487.0" y="186.0" width="1.0" height="1.0" fill="#ff50ff"/>
<rect x="464.0" y="187.0" width="2.0" height="1.0" fill="#ff50ff"/>
<rect x="471.0" y="188.0" width="1.0" height="1.0" fill="#ff50ff"/>
<rect x="485.0" y="188.0" width="2.0" height="1.0" fill="#ff50ff"/>
<rect x="479.0" y="190.0" width="1.0" height="1.0" fill="#ff50ff"/>
<rect x="485.0" y="191.0" width="2.0" height="1.0" fill="#ff50ff"/>
<rect x="472.0" y="192.0" width="2.0" height="1.0" fill="#ff50ff"/>
<rect x="467.0" y="195.0" width="2.0" height="1.0" fill="#ff50ff"/>
<rect x="477.0" y="196.0" width="2.0" height="1.0" fill="#ff50ff"/>
<rect x="464.0" y="199.0" width="2.0" height="1.0" fill="#ff50ff"/>
<rect x="477.0" y="205.0" width="2.0" height="1.0" fill="#ff50ff"/>
<rect x="479.0" y="214.0" width="1.0" height="1.0" fill="#ff50ff"/>
<rect x="464.0" y="222.0" width="2.0" height="1.0" fill="#ff50ff"/>
</g>
<rect x="73.5" y="157.5" width="484" height="88" fill="none" stroke="#000" stroke-width="1" shape-rendering="crispEdges"/>
<text x="72.5" y="258.2" font-size="10.75" text-anchor="middle" >−400</text>
<rect x="134" y="240" width="1" height="5" fill="#000"/>
<text x="133.0" y="258.2" font-size="10.75" text-anchor="middle" >−300</text>
<rect x="194" y="240" width="1" height="5" fill="#000"/>
<text x="193.5" y="258.2" font-size="10.75" text-anchor="middle" >−200</text>
<rect x="255" y="240" width="1" height="5" fill="#000"/>
<text x="254.0" y="258.2" font-size="10.75" text-anchor="middle" >−100</text>
<rect x="315" y="240" width="1" height="5" fill="#000"/>
<text x="315.5" y="258.2" font-size="10.75" text-anchor="middle" >0</text>
<rect x="376" y="240" width="1" height="5" fill="#000"/>
<text x="376.0" y="258.2" font-size="10.75" text-anchor="middle" >100</text>
<rect x="436" y="240" width="1" height="5" fill="#000"/>
<text x="436.5" y="258.2" font-size="10.75" text-anchor="middle" >200</text>
<rect x="496" y="240" width="1" height="5" fill="#000"/>
<text x="497.0" y="258.2" font-size="10.75" text-anchor="middle" >300</text>
<text x="557.5" y="258.2" font-size="10.75" text-anchor="middle" >400</text>
<text x="68.5" y="160.9" font-size="10.75" text-anchor="end" >20</text>
<rect x="73" y="201" width="6" height="1" fill="#000"/>
<text x="68.5" y="204.9" font-size="10.75" text-anchor="end" >10</text>
<text x="68.5" y="248.9" font-size="10.75" text-anchor="end" >0</text>
<text x="47.0" y="202.0" font-size="11.1" text-anchor="middle" transform="rotate(-90 47.0 202.0)" >Altitude, km</text>
<text x="315.5" y="264.2" font-size="11.1" text-anchor="middle" >East-West, km</text>
<path d="M596.0,160.5 L596.3,163.4 L595.8,166.2 L596.5,169.1 L596.0,172.6 L596.7,173.3 L596.0,174.8 L596.4,178.3 L596.1,181.2 L597.4,182.6 L596.8,184.0 L597.5,186.1 L596.7,188.3 L597.4,190.4 L596.5,193.3 L597.1,196.1 L596.4,199.0 L597.4,201.1 L600.0,201.5 L597.1,202.7 L596.7,204.6 L597.8,206.1 L601.4,207.5 L607.1,209.6 L612.8,211.0 L620.6,212.9 L622.7,214.0 L632.7,214.6 L646.9,214.9 L661.1,215.3 L664.0,215.7 L667.5,216.7 L671.8,217.7 L683.2,217.9 L671.8,218.3 L667.5,219.2 L654.0,220.3 L639.8,221.4 L632.7,222.1 L618.5,223.1 L607.1,223.8 L600.7,224.8 L601.1,226.0 L596.4,226.4 L596.0,228.8 L596.4,231.7 L595.8,234.5 L596.3,237.4 L596.0,239.1 L600.2,239.6 L596.4,240.5 L600.5,241.3 L596.3,242.2 L598.5,243.1 L596.0,244.2" fill="none" stroke="#000" stroke-width="1.8" stroke-linejoin="round"/>
<rect x="595.5" y="157.5" width="93" height="88" fill="none" stroke="#000" stroke-width="1" shape-rendering="crispEdges"/>
<rect x="595" y="161" width="6" height="1" fill="#000"/>
<rect x="595" y="201" width="6" height="1" fill="#000"/>
<rect x="595" y="242" width="6" height="1" fill="#000"/>
<rect x="660" y="240" width="1" height="5" fill="#000"/>
<text x="589.2" y="164.9" font-size="10.75" text-anchor="end" >20</text>
<text x="589.2" y="205.0" font-size="10.75" text-anchor="end" >10</text>
<text x="589.2" y="245.7" font-size="10.75" text-anchor="end" >0</text>
<text x="595.5" y="258.2" font-size="10.75" text-anchor="middle" >0</text>
<text x="660.5" y="258.2" font-size="10.75" text-anchor="middle" >100</text>
<text x="642.0" y="166.2" font-size="8.4" text-anchor="middle" >1,432 sources</text>
<rect x="102" y="704" width="1" height="5" fill="#000"/>
<rect x="158" y="704" width="1" height="5" fill="#000"/>
<rect x="214" y="704" width="1" height="5" fill="#000"/>
<rect x="270" y="704" width="1" height="5" fill="#000"/>
<rect x="326" y="704" width="1" height="5" fill="#000"/>
<rect x="382" y="704" width="1" height="5" fill="#000"/>
<rect x="438" y="704" width="1" height="5" fill="#000"/>
<rect x="494" y="704" width="1" height="5" fill="#000"/>
<rect x="550" y="704" width="1" height="5" fill="#000"/>
<rect x="73" y="671" width="6" height="1" fill="#000"/>
<rect x="73" y="611" width="6" height="1" fill="#000"/>
<rect x="73" y="550" width="6" height="1" fill="#000"/>
<rect x="73" y="490" width="6" height="1" fill="#000"/>
<rect x="73" y="430" width="6" height="1" fill="#000"/>
<rect x="73" y="369" width="6" height="1" fill="#000"/>
<rect x="73" y="309" width="6" height="1" fill="#000"/>
<clipPath id="cm"><rect x="73.5" y="273.5" width="484" height="436"/></clipPath>
<g clip-path="url(#cm)" stroke-linejoin="round">
<path d="M81.0,308.5 L83.0,305.8 L85.0,306.5 L86.5,304.5 L88.5,305.0 L91.7,303.6 L93.0,302.3 L95.5,302.8 L98.2,302.1 L101.5,301.9 L104.7,300.4 L106.5,297.5 L109.0,293.8 L109.2,290.5 L110.1,288.4 L112.0,289.5 L113.8,288.0 L115.5,288.4 L115.2,285.8 L116.6,284.1 L117.8,284.5 L118.6,281.8 L121.0,279.8 L120.6,277.8 L122.0,276.5 L122.6,274.8 L124.2,273.7" fill="none" stroke="#c8c8c8" stroke-width="1.2" />
<path d="M73.0,276.0 L122.0,276.0" fill="none" stroke="#c8c8c8" stroke-width="1.2" />
<path d="M212.0,279.5 L217.5,273.7" fill="none" stroke="#c8c8c8" stroke-width="1.2" />
<path d="M115.7,309.0 L115.7,489.8 L157.8,489.8 L157.8,521.9" fill="none" stroke="#c8c8c8" stroke-width="1.2" />
<path d="M157.6,309.0 L157.6,389.2 L167.6,389.2 L167.6,398.0 L166.5,399.0 L166.5,452.5 L165.6,453.5 L165.6,482.9 L164.7,484.0 L164.7,503.5 L163.7,504.5 L163.7,515.4" fill="none" stroke="#c8c8c8" stroke-width="1.2" />
<path d="M157.8,515.4 L163.7,515.4 L166.5,517.6 L169.7,521.2 L176.2,515.4 L186.0,511.1 L188.8,507.8 L193.6,506.7 L194.7,503.5 L211.4,503.5" fill="none" stroke="#c8c8c8" stroke-width="1.2" />
<path d="M73.0,463.0 L74.3,463.4 L76.0,466.0 L78.7,465.5 L83.0,464.0 L87.3,463.4 L91.7,466.0 L99.3,467.7 L103.0,469.0 L109.0,472.7 L112.0,472.8 L115.5,471.6" fill="none" stroke="#c8c8c8" stroke-width="1.2" />
<path d="M73.5,478.0 L74.3,480.7 L75.4,487.2 L79.8,495.9 L80.8,503.5 L85.0,508.0 L89.9,513.2 L93.4,509.5 L99.3,521.9 L105.8,537.1 L114.4,551.2 L118.8,544.7 L128.5,539.7 L134.6,538.2 L132.4,532.7 L134.0,526.7 L143.7,523.6 L157.8,521.9" fill="none" stroke="#c8c8c8" stroke-width="1.2" />
<path d="M73.0,521.9 L99.3,521.9" fill="none" stroke="#c8c8c8" stroke-width="1.2" />
<path d="M186.4,511.1 L186.4,545.7 L193.6,556.6 L200.1,565.3 L202.2,571.8 L201.8,578.4 L206.6,583.4 L210.5,584.9" fill="none" stroke="#c8c8c8" stroke-width="1.2" />
<path d="M132.9,538.2 L132.9,650.4" fill="none" stroke="#c8c8c8" stroke-width="1.2" />
<path d="M73.0,580.3 L95.0,579.9 L132.9,579.3" fill="none" stroke="#c8c8c8" stroke-width="1.2" />
<path d="M132.9,584.9 L211.4,584.9" fill="none" stroke="#c8c8c8" stroke-width="1.2" />
<path d="M81.3,645.0 L81.3,639.6 L92.3,639.6 L92.3,627.6 L132.9,626.8" fill="none" stroke="#c8c8c8" stroke-width="1.2" />
<path d="M269.0,273.7 L268.0,279.8 L264.7,285.2 L259.3,287.3 L253.8,296.0 L252.8,301.4 L249.5,306.9 L248.4,308.6" fill="none" stroke="#c8c8c8" stroke-width="1.2" />
<path d="M298.7,273.7 L298.7,308.6" fill="none" stroke="#c8c8c8" stroke-width="1.2" />
<path d="M298.7,283.4 L318.5,283.4" fill="none" stroke="#c8c8c8" stroke-width="1.2" />
<path d="M318.5,273.7 L318.5,284.7 L379.6,284.7" fill="none" stroke="#c8c8c8" stroke-width="1.2" />
<path d="M341.9,273.7 L341.9,284.7 L343.2,284.7 L343.8,293.8 L348.2,297.1 L349.2,300.4 L354.7,308.6" fill="none" stroke="#c8c8c8" stroke-width="1.2" />
<path d="M379.6,273.7 L379.6,287.3 L395.8,287.3 L410.7,273.9" fill="none" stroke="#c8c8c8" stroke-width="1.2" />
<path d="M395.8,287.3 L396.9,291.9 L395.0,304.6 L396.9,308.0" fill="none" stroke="#c8c8c8" stroke-width="1.2" />
<path d="M429.2,309.0 L429.2,290.7 L430.3,283.8 L428.0,279.2 L426.9,273.9" fill="none" stroke="#c8c8c8" stroke-width="1.2" />
<path d="M429.2,290.7 L437.2,286.1 L452.2,283.8 L455.7,279.2 L462.6,273.9" fill="none" stroke="#c8c8c8" stroke-width="1.2" />
<path d="M546.0,273.9 L544.3,308.7" fill="none" stroke="#c8c8c8" stroke-width="1.2" />
<path d="M301.5,309.0 L300.5,315.1 L291.8,318.8 L290.7,326.4 L290.3,341.5 L291.1,356.1 L290.7,369.3" fill="none" stroke="#c8c8c8" stroke-width="1.2" />
<path d="M291.1,356.1 L332.5,356.1 L332.5,369.3 L367.7,369.3" fill="none" stroke="#c8c8c8" stroke-width="1.2" />
<path d="M211.4,369.3 L308.5,369.3 L308.5,411.4" fill="none" stroke="#c8c8c8" stroke-width="1.2" />
<path d="M211.4,431.9 L243.4,431.9 L243.4,411.4 L284.6,411.4 L284.6,408.8 L290.3,408.8 L290.3,411.4 L312.2,411.4 L324.4,437.1 L341.5,437.1 L343.0,435.0 L355.6,435.0" fill="none" stroke="#c8c8c8" stroke-width="1.2" />
<path d="M315.0,416.3 L368.0,416.3" fill="none" stroke="#c8c8c8" stroke-width="1.2" />
<path d="M367.7,369.3 L367.7,416.3 L368.2,417.0 L368.6,432.2 L373.5,432.2 L373.5,437.4 L355.6,437.4" fill="none" stroke="#c8c8c8" stroke-width="1.2" />
<path d="M367.7,369.3 L368.8,373.0 L378.5,373.0 L378.5,369.3 L390.0,369.4 L401.5,370.7 L407.3,368.6" fill="none" stroke="#c8c8c8" stroke-width="1.2" />
<path d="M381.8,309.5 L383.9,317.7 L383.5,328.5 L385.7,341.5 L383.9,348.0 L378.5,351.3 L390.0,356.0 L394.6,364.4 L407.3,368.6 L413.0,362.1 L415.8,353.4" fill="none" stroke="#c8c8c8" stroke-width="1.2" />
<path d="M368.6,426.8 L421.1,426.8" fill="none" stroke="#c8c8c8" stroke-width="1.2" />
<path d="M397.6,369.8 L397.6,426.8" fill="none" stroke="#c8c8c8" stroke-width="1.2" />
<path d="M424.6,309.6 L426.4,313.8 L425.0,324.1 L418.8,326.4 L417.2,334.5 L419.5,343.7 L419.5,353.4" fill="none" stroke="#c8c8c8" stroke-width="1.2" />
<path d="M415.8,353.4 L445.3,353.4 L445.3,355.9 L493.7,355.9" fill="none" stroke="#c8c8c8" stroke-width="1.2" />
<path d="M493.7,309.6 L493.7,358.2 L505.2,358.2 L505.2,363.8 L529.4,363.8 L528.9,405.7 L514.4,405.5 L514.4,414.7 L501.7,414.7 L486.8,420.9" fill="none" stroke="#c8c8c8" stroke-width="1.2" />
<path d="M397.6,376.7 L417.6,376.7 L436.1,382.9 L494.8,382.2 L509.8,404.3 L514.4,405.5" fill="none" stroke="#c8c8c8" stroke-width="1.2" />
<path d="M469.5,355.9 L474.8,371.4 L472.5,378.3 L473.4,382.2" fill="none" stroke="#c8c8c8" stroke-width="1.2" />
<path d="M421.1,416.3 L421.1,453.4 L420.4,454.0 L420.4,474.3" fill="none" stroke="#c8c8c8" stroke-width="1.2" />
<path d="M421.1,416.3 L486.8,416.3 L486.5,453.4" fill="none" stroke="#c8c8c8" stroke-width="1.2" />
<path d="M528.9,384.5 L548.3,384.5" fill="none" stroke="#c8c8c8" stroke-width="1.2" />
<path d="M509.8,453.4 L509.8,448.8 L521.8,448.8 L521.8,443.0 L527.8,443.0 L527.8,437.7 L533.5,437.7 L533.5,432.7 L547.8,432.7" fill="none" stroke="#c8c8c8" stroke-width="1.2" />
<path d="M486.3,453.4 L509.8,453.4" fill="none" stroke="#c8c8c8" stroke-width="1.2" />
<path d="M443.4,453.4 L468.8,453.4 L468.8,448.8 L474.8,448.8 L474.8,442.6 L486.3,442.6" fill="none" stroke="#c8c8c8" stroke-width="1.2" />
<path d="M443.4,453.4 L443.4,527.0 L444.3,528.0 L443.4,541.4" fill="none" stroke="#c8c8c8" stroke-width="1.2" />
<path d="M420.4,468.8 L443.4,468.8" fill="none" stroke="#c8c8c8" stroke-width="1.2" />
<path d="M358.2,474.3 L420.4,474.3" fill="none" stroke="#c8c8c8" stroke-width="1.2" />
<path d="M386.0,474.3 L386.0,500.2 L379.2,500.2 L379.2,510.6 L361.2,510.6 L361.2,526.2 L396.9,526.6 L396.9,531.7 L419.5,531.7 L420.0,552.5 L418.1,553.0 L418.1,579.2 L446.4,579.2" fill="none" stroke="#c8c8c8" stroke-width="1.2" />
<path d="M496.4,453.4 L496.4,485.0" fill="none" stroke="#c8c8c8" stroke-width="1.2" />
<path d="M508.6,453.4 L508.6,471.1 L557.0,471.1" fill="none" stroke="#c8c8c8" stroke-width="1.2" />
<path d="M443.4,484.5 L449.4,484.5 L449.4,489.6 L484.9,489.6 L484.9,485.0 L502.4,485.0 L502.4,500.6 L509.3,500.6 L509.3,510.5 L521.3,510.5 L521.3,515.3" fill="none" stroke="#c8c8c8" stroke-width="1.2" />
<path d="M509.3,515.5 L547.3,515.5" fill="none" stroke="#c8c8c8" stroke-width="1.2" />
<path d="M509.3,515.5 L509.3,526.4 L507.0,526.4 L506.3,552.5 L504.5,553.0 L504.5,579.2 L509.3,579.2 L509.3,610.4" fill="none" stroke="#c8c8c8" stroke-width="1.2" />
<path d="M446.4,610.4 L446.4,552.6 L506.3,552.6" fill="none" stroke="#c8c8c8" stroke-width="1.2" />
<path d="M420.0,542.1 L443.4,542.1" fill="none" stroke="#c8c8c8" stroke-width="1.2" />
<path d="M211.4,454.7 L333.3,454.7 L358.0,463.4" fill="none" stroke="#c8c8c8" stroke-width="1.2" />
<path d="M322.0,432.4 L314.6,432.4 L314.6,454.7" fill="none" stroke="#c8c8c8" stroke-width="1.2" />
<path d="M355.7,435.0 L355.7,458.2 L358.2,458.2 L358.2,474.3" fill="none" stroke="#c8c8c8" stroke-width="1.2" />
<path d="M285.7,454.7 L285.7,521.2" fill="none" stroke="#c8c8c8" stroke-width="1.2" />
<path d="M361.2,521.2 L269.5,521.2 L269.5,537.8" fill="none" stroke="#c8c8c8" stroke-width="1.2" />
<path d="M211.4,537.7 L278.0,537.7 L278.9,551.1 L282.6,553.6 L283.3,559.3 L285.7,565.0 L285.4,573.1 L291.0,574.3" fill="none" stroke="#c8c8c8" stroke-width="1.2" />
<path d="M309.3,574.3 L274.5,574.3 L274.5,579.3 L256.9,579.3 L257.2,604.8 L257.7,623.5" fill="none" stroke="#c8c8c8" stroke-width="1.2" />
<path d="M211.4,563.3 L222.3,563.3 L222.3,574.3 L233.7,574.3 L233.7,579.3 L239.5,579.3 L239.5,605.1 L240.7,606.0 L240.7,619.1 L256.9,619.1" fill="none" stroke="#c8c8c8" stroke-width="1.2" />
<path d="M309.3,623.5 L309.3,563.3 L332.3,563.3 L362.3,547.9" fill="none" stroke="#c8c8c8" stroke-width="1.2" />
<path d="M362.3,526.2 L362.3,547.9 L360.7,549.0 L360.5,610.5" fill="none" stroke="#c8c8c8" stroke-width="1.2" />
<path d="M382.4,610.5 L382.4,642.4 L384.4,643.5 L383.9,646.3" fill="none" stroke="#c8c8c8" stroke-width="1.2" />
<path d="M442.5,610.4 L442.5,691.7 L487.9,664.5 L551.3,709.0" fill="none" stroke="#c8c8c8" stroke-width="1.2" />
<path d="M493.0,610.4 L487.9,664.5" fill="none" stroke="#c8c8c8" stroke-width="1.2" />
<path d="M493.0,610.4 L494.5,613.0 L496.5,613.8 L498.3,616.8 L500.2,617.0 L502.9,619.1 L503.5,621.5 L505.2,623.7 L507.5,624.5 L509.8,627.2 L512.5,628.6 L515.5,631.8 L518.5,631.6 L521.3,632.5 L521.2,637.0 L521.8,642.1 L523.5,644.2 L525.9,644.9 L530.0,645.2 L535.1,646.3 L538.5,648.3 L542.0,649.1 L545.5,648.4 L549.0,649.1 L553.0,650.2 L557.0,651.8" fill="none" stroke="#c8c8c8" stroke-width="1.2" />
<path d="M531.2,610.4 L531.2,631.3" fill="none" stroke="#c8c8c8" stroke-width="1.2" />
<path d="M515.5,631.3 L557.0,631.3" fill="none" stroke="#c8c8c8" stroke-width="1.2" />
<path d="M549.0,649.1 L516.7,684.8" fill="none" stroke="#c8c8c8" stroke-width="1.2" />
<path d="M524.8,691.0 L504.5,706.6" fill="none" stroke="#c8c8c8" stroke-width="1.2" />
<path d="M439.5,694.0 L494.8,705.5 L504.5,706.5" fill="none" stroke="#c8c8c8" stroke-width="1.2" />
<path d="M360.1,371.5 L367.7,370.8 L368.8,376.2 L372.0,380.6 L369.8,383.2 L365.5,381.7 L359.0,379.5 L360.1,371.5" fill="none" stroke="#c8c8c8" stroke-width="1.2" />
<path d="M547.5,365.1 L557.0,365.1" fill="none" stroke="#c8c8c8" stroke-width="1.2" />
<path d="M547.5,391.4 L557.0,391.4" fill="none" stroke="#c8c8c8" stroke-width="1.2" />
<path d="M547.5,418.1 L557.0,418.1" fill="none" stroke="#c8c8c8" stroke-width="1.2" />
<path d="M547.5,444.2 L557.0,444.2" fill="none" stroke="#c8c8c8" stroke-width="1.2" />
<path d="M547.5,500.6 L557.0,500.6" fill="none" stroke="#c8c8c8" stroke-width="1.2" />
<path d="M547.5,526.7 L557.0,526.7" fill="none" stroke="#c8c8c8" stroke-width="1.2" />
<path d="M547.5,552.9 L557.0,552.9" fill="none" stroke="#c8c8c8" stroke-width="1.2" />
<path d="M547.5,579.0 L557.0,579.0" fill="none" stroke="#c8c8c8" stroke-width="1.2" />
<path d="M547.5,605.3 L557.0,605.3" fill="none" stroke="#c8c8c8" stroke-width="1.2" />
<path d="M73.0,308.6 L131.5,308.6 L132.5,309.3 L230.0,309.1 L300.0,308.8 L331.5,308.7 L332.5,309.5 L450.0,309.3 L557.0,308.5" fill="none" stroke="#ff1010" stroke-width="1.3" />
<path d="M211.4,273.0 L211.4,650.4" fill="none" stroke="#ff1010" stroke-width="1.2" />
<path d="M73.9,642.4 L98.2,651.1 L211.4,650.4 L258.2,650.4 L258.2,623.5 L348.2,623.5" fill="none" stroke="#ff2828" stroke-width="0.85" />
<path d="M348.2,623.5 L346.0,618.5 L345.6,613.1 L347.1,610.5 L546.6,610.4 L546.6,590.0 L548.5,420.0 L548.3,339.1" fill="none" stroke="#ff1010" stroke-width="1.2" />
<path d="M549.6,308.5 L549.6,339.1" fill="none" stroke="#ff1010" stroke-width="1.2" />
<path d="M548.3,339.1 L557.0,339.1" fill="none" stroke="#ff1010" stroke-width="1.2" />
<path d="M348.2,623.5 L360.1,626.6 L369.8,642.4 L381.8,647.2 L390.0,655.4 L394.6,661.7 L403.4,665.2 L406.1,669.8 L414.2,676.7 L416.5,680.8 L421.1,682.5 L424.6,682.0 L434.9,690.5 L437.9,690.5 L439.5,694.0 L444.1,697.4 L446.0,707.8 L448.7,709.0" fill="none" stroke="#ff2828" stroke-width="0.85" />
</g>
<g shape-rendering="crispEdges">
<rect x="257.0" y="447.0" width="2.0" height="2.0" fill="#ff50ff"/>
<rect x="259.0" y="447.0" width="2.0" height="2.0" fill="#0080ff"/>
<rect x="257.0" y="450.0" width="2.0" height="2.0" fill="#0000ff"/>
<rect x="259.0" y="450.0" width="1.0" height="2.0" fill="#00ffff"/>
<rect x="260.0" y="450.0" width="1.0" height="2.0" fill="#00ff00"/>
<rect x="262.0" y="450.0" width="3.0" height="2.0" fill="#0000ff"/>
<rect x="257.0" y="452.0" width="2.0" height="3.0" fill="#008040"/>
<rect x="259.0" y="452.0" width="2.0" height="3.0" fill="#ffc080"/>
<rect x="262.0" y="452.0" width="2.0" height="3.0" fill="#ff50ff"/>
<rect x="264.0" y="452.0" width="3.0" height="1.0" fill="#ff50ff"/>
<rect x="264.0" y="453.0" width="3.0" height="2.0" fill="#ffc8ff"/>
<rect x="267.0" y="453.0" width="3.0" height="2.0" fill="#ff50ff"/>
<rect x="257.0" y="455.0" width="1.0" height="1.0" fill="#ff8000"/>
<rect x="259.0" y="455.0" width="2.0" height="1.0" fill="#ffc080"/>
<rect x="262.0" y="455.0" width="2.0" height="1.0" fill="#ff50ff"/>
<rect x="264.0" y="455.0" width="6.0" height="1.0" fill="#ff50ff"/>
<rect x="257.0" y="456.0" width="2.0" height="2.0" fill="#ff50ff"/>
<rect x="259.0" y="456.0" width="1.0" height="2.0" fill="#ffc080"/>
<rect x="260.0" y="456.0" width="1.0" height="2.0" fill="#0080ff"/>
<rect x="261.0" y="456.0" width="3.0" height="2.0" fill="#008040"/>
<rect x="264.0" y="456.0" width="3.0" height="2.0" fill="#ff50ff"/>
<rect x="267.0" y="456.0" width="3.0" height="2.0" fill="#0000ff"/>
<rect x="259.0" y="458.0" width="3.0" height="1.0" fill="#00ffff"/>
<rect x="262.0" y="458.0" width="2.0" height="1.0" fill="#0000ff"/>
<rect x="265.0" y="458.0" width="2.0" height="1.0" fill="#008040"/>
<rect x="267.0" y="458.0" width="2.0" height="1.0" fill="#ff50ff"/>
<rect x="257.0" y="460.0" width="4.0" height="2.0" fill="#ff50ff"/>
<rect x="261.0" y="460.0" width="1.0" height="2.0" fill="#00ff00"/>
<rect x="264.0" y="460.0" width="1.0" height="2.0" fill="#ff50ff"/>
<rect x="259.0" y="463.0" width="2.0" height="2.0" fill="#ff50ff"/>
<rect x="261.0" y="462.0" width="3.0" height="3.0" fill="#0080ff"/>
<rect x="264.0" y="463.0" width="1.0" height="2.0" fill="#00ff00"/>
<rect x="257.0" y="465.0" width="2.0" height="3.0" fill="#ff50ff"/>
<rect x="259.0" y="465.0" width="2.0" height="3.0" fill="#008040"/>
<rect x="261.0" y="465.0" width="3.0" height="1.0" fill="#ff8000"/>
<rect x="261.0" y="466.0" width="3.0" height="2.0" fill="#408080"/>
<rect x="264.0" y="466.0" width="1.0" height="2.0" fill="#00ffff"/>
<rect x="257.0" y="468.0" width="2.0" height="1.0" fill="#0000ff"/>
<rect x="259.0" y="468.0" width="2.0" height="3.0" fill="#ffff00"/>
<rect x="259.0" y="468.0" width="2.0" height="1.0" fill="#ff8000"/>
<rect x="261.0" y="468.0" width="3.0" height="3.0" fill="#ff0000"/>
<rect x="264.0" y="469.0" width="1.0" height="2.0" fill="#0000ff"/>
<rect x="259.0" y="471.0" width="2.0" height="1.0" fill="#0080ff"/>
<rect x="262.0" y="471.0" width="2.0" height="1.0" fill="#0000ff"/>
<rect x="256.0" y="479.0" width="1.0" height="2.0" fill="#0000ff"/>
<rect x="257.0" y="507.5" width="1.6" height="1.6" fill="#ff50ff"/>
<rect x="259.0" y="506.8" width="1.6" height="1.0" fill="#ff50ff"/>
<rect x="260.6" y="507.5" width="1.4" height="1.6" fill="#ff50ff"/>
<rect x="259.0" y="509.6" width="1.8" height="1.0" fill="#00ff00"/>
<rect x="259.0" y="510.6" width="2.0" height="2.0" fill="#0000ff"/>
<rect x="303.8" y="485.0" width="2.2" height="3.0" fill="#ffc080"/>
<rect x="301.2" y="491.2" width="2.4" height="1.2" fill="#008040"/>
<rect x="303.8" y="491.2" width="2.2" height="1.2" fill="#ff0000"/>
<rect x="301.2" y="492.4" width="2.4" height="1.6" fill="#008040"/>
<rect x="303.8" y="492.4" width="2.2" height="1.6" fill="#ff0080"/>
<rect x="301.2" y="494.0" width="2.4" height="1.0" fill="#ff8000"/>
<rect x="303.8" y="494.0" width="2.2" height="1.0" fill="#008040"/>
<rect x="301.2" y="495.0" width="2.4" height="3.0" fill="#00ffff"/>
<rect x="303.8" y="495.0" width="2.2" height="3.0" fill="#000000"/>
<rect x="306.0" y="495.0" width="1.2" height="3.0" fill="#00ff00"/>
<rect x="301.2" y="498.0" width="2.4" height="1.8" fill="#ffff00"/>
<rect x="303.8" y="498.0" width="2.2" height="1.8" fill="#ff0000"/>
<rect x="306.0" y="498.0" width="1.2" height="1.8" fill="#ff0000"/>
<rect x="299.0" y="499.8" width="2.2" height="1.2" fill="#ff50ff"/>
<rect x="301.2" y="499.8" width="2.4" height="1.2" fill="#008040"/>
<rect x="303.8" y="499.8" width="2.2" height="1.2" fill="#000000"/>
<rect x="306.0" y="499.8" width="1.2" height="1.2" fill="#ffff00"/>
<rect x="299.0" y="501.0" width="2.2" height="2.2" fill="#00ff00"/>
<rect x="301.2" y="501.0" width="2.4" height="2.2" fill="#ff8000"/>
<rect x="303.8" y="501.0" width="2.2" height="2.2" fill="#ff0080"/>
<rect x="306.0" y="501.0" width="1.2" height="2.2" fill="#0000ff"/>
<rect x="299.0" y="503.2" width="2.2" height="0.8" fill="#0000ff"/>
<rect x="301.2" y="503.2" width="2.4" height="0.8" fill="#ff0000"/>
<rect x="303.8" y="503.2" width="2.2" height="0.8" fill="#ff50ff"/>
<rect x="299.0" y="504.0" width="2.2" height="2.2" fill="#00ff00"/>
<rect x="301.2" y="504.0" width="2.4" height="2.2" fill="#00ff00"/>
<rect x="303.8" y="504.0" width="2.2" height="2.2" fill="#0000ff"/>
<rect x="299.0" y="506.2" width="2.2" height="1.0" fill="#0080ff"/>
<rect x="301.2" y="506.2" width="2.4" height="1.0" fill="#0000ff"/>
<rect x="303.8" y="506.2" width="2.2" height="1.0" fill="#ffff00"/>
<rect x="306.0" y="506.2" width="1.2" height="1.0" fill="#0080ff"/>
<rect x="301.2" y="507.2" width="2.4" height="3.0" fill="#008040"/>
<rect x="303.8" y="507.2" width="2.2" height="3.0" fill="#ffff00"/>
<rect x="306.0" y="507.2" width="1.2" height="3.0" fill="#0000ff"/>
<rect x="301.2" y="510.2" width="2.4" height="0.8" fill="#ff8000"/>
<rect x="299.0" y="511.0" width="2.2" height="2.1" fill="#00ffff"/>
<rect x="301.2" y="511.0" width="2.4" height="2.1" fill="#ff50ff"/>
<rect x="303.8" y="511.0" width="2.2" height="2.1" fill="#00ffff"/>
<rect x="299.0" y="513.1" width="2.2" height="0.8" fill="#ff50ff"/>
<rect x="298.0" y="507.5" width="1.0" height="2.0" fill="#ff50ff"/>
<rect x="480.0" y="468.0" width="2.0" height="1.0" fill="#0000ff"/>
<rect x="484.8" y="468.8" width="2.0" height="2.0" fill="#ff50ff"/>
<rect x="484.8" y="470.8" width="2.0" height="1.2" fill="#0000ff"/>
<rect x="477.0" y="472.0" width="9.8" height="2.0" fill="#ff50ff"/>
<rect x="477.0" y="474.0" width="2.7" height="1.0" fill="#ff50ff"/>
<rect x="474.0" y="474.0" width="2.0" height="1.0" fill="#0000ff"/>
<rect x="480.0" y="475.0" width="2.0" height="1.0" fill="#ff50ff"/>
<rect x="484.8" y="475.0" width="1.8" height="1.0" fill="#ff50ff"/>
<rect x="486.7" y="475.0" width="1.3" height="1.0" fill="#0000ff"/>
<rect x="476.0" y="476.0" width="1.0" height="2.0" fill="#ff50ff"/>
<rect x="476.0" y="478.0" width="1.0" height="1.0" fill="#0000ff"/>
<rect x="471.0" y="478.0" width="1.0" height="3.0" fill="#ff50ff"/>
<rect x="472.0" y="478.0" width="2.0" height="1.4" fill="#0000ff"/>
<rect x="472.0" y="479.4" width="2.0" height="1.6" fill="#0080ff"/>
<rect x="484.8" y="479.0" width="2.0" height="2.0" fill="#ff50ff"/>
<rect x="486.8" y="481.0" width="1.2" height="1.0" fill="#ff50ff"/>
<rect x="492.0" y="479.0" width="1.0" height="2.0" fill="#ff50ff"/>
<rect x="463.8" y="481.0" width="2.0" height="1.0" fill="#ff50ff"/>
<rect x="463.8" y="482.0" width="2.2" height="2.0" fill="#00ffff"/>
<rect x="466.9" y="482.0" width="2.2" height="3.0" fill="#ff50ff"/>
<rect x="474.0" y="481.0" width="1.7" height="1.0" fill="#ff50ff"/>
<rect x="472.0" y="482.0" width="2.0" height="2.0" fill="#ff50ff"/>
<rect x="477.0" y="481.7" width="2.0" height="2.1" fill="#0000ff"/>
<rect x="479.0" y="482.0" width="1.0" height="2.0" fill="#ff50ff"/>
<rect x="477.0" y="485.0" width="2.0" height="2.0" fill="#ff50ff"/>
<rect x="471.0" y="487.0" width="1.0" height="1.0" fill="#ff50ff"/>
<rect x="474.0" y="487.0" width="2.0" height="1.0" fill="#ff50ff"/>
<rect x="476.0" y="487.0" width="1.0" height="1.0" fill="#0000ff"/>
<rect x="356.0" y="399.0" width="2.0" height="2.0" fill="#ff50ff"/>
<rect x="358.0" y="398.0" width="1.0" height="1.0" fill="#ff50ff"/>
<rect x="396.0" y="430.0" width="2.0" height="2.0" fill="#ff50ff"/>
<rect x="394.0" y="434.0" width="2.0" height="2.0" fill="#ff50ff"/>
<rect x="395.5" y="433.0" width="1.0" height="2.0" fill="#0000ff"/>
</g>
<rect x="73.5" y="273.5" width="484" height="436" fill="none" stroke="#000" stroke-width="1" shape-rendering="crispEdges"/>
<text x="101.5" y="722.3" font-size="10.75" text-anchor="middle" >−111</text>
<text x="157.5" y="722.3" font-size="10.75" text-anchor="middle" >−110</text>
<text x="213.5" y="722.3" font-size="10.75" text-anchor="middle" >−109</text>
<text x="269.5" y="722.3" font-size="10.75" text-anchor="middle" >−108</text>
<text x="325.5" y="722.3" font-size="10.75" text-anchor="middle" >−107</text>
<text x="381.5" y="722.3" font-size="10.75" text-anchor="middle" >−106</text>
<text x="437.5" y="722.3" font-size="10.75" text-anchor="middle" >−105</text>
<text x="493.5" y="722.3" font-size="10.75" text-anchor="middle" >−104</text>
<text x="549.5" y="722.3" font-size="10.75" text-anchor="middle" >−103</text>
<text x="67.8" y="674.7" font-size="10.75" text-anchor="end" >31</text>
<text x="67.8" y="614.4" font-size="10.75" text-anchor="end" >32</text>
<text x="67.8" y="554.1" font-size="10.75" text-anchor="end" >33</text>
<text x="67.8" y="493.8" font-size="10.75" text-anchor="end" >34</text>
<text x="67.8" y="433.5" font-size="10.75" text-anchor="end" >35</text>
<text x="67.8" y="373.2" font-size="10.75" text-anchor="end" >36</text>
<text x="67.8" y="312.9" font-size="10.75" text-anchor="end" >37</text>
<text x="47.0" y="493.4" font-size="11.1" text-anchor="middle" transform="rotate(-90 47.0 493.4)" >Latitude</text>
<text x="315.4" y="741.0" font-size="11.1" text-anchor="middle" >Longitude</text>
<line x1="641.00" y1="274.0" x2="641.00" y2="709.0" stroke="rgba(0,0,0,0.068)" stroke-width="2"/>
<line x1="601.0" y1="327.00" x2="688.0" y2="327.00" stroke="rgba(0,0,0,0.068)" stroke-width="2"/>
<line x1="601.0" y1="382.00" x2="688.0" y2="382.00" stroke="rgba(0,0,0,0.068)" stroke-width="2"/>
<line x1="601.0" y1="436.00" x2="688.0" y2="436.00" stroke="rgba(0,0,0,0.068)" stroke-width="2"/>
<line x1="601.0" y1="491.00" x2="688.0" y2="491.00" stroke="rgba(0,0,0,0.068)" stroke-width="2"/>
<line x1="601.0" y1="545.00" x2="688.0" y2="545.00" stroke="rgba(0,0,0,0.068)" stroke-width="2"/>
<line x1="601.0" y1="600.00" x2="688.0" y2="600.00" stroke="rgba(0,0,0,0.068)" stroke-width="2"/>
<line x1="601.0" y1="654.00" x2="688.0" y2="654.00" stroke="rgba(0,0,0,0.068)" stroke-width="2"/>
<g shape-rendering="crispEdges">
<rect x="659.0" y="451.0" width="1.0" height="2.0" fill="#ff50ff"/>
<rect x="659.0" y="461.0" width="1.0" height="1.0" fill="#ff50ff"/>
<rect x="646.0" y="456.0" width="1.0" height="1.0" fill="#ff50ff"/>
<rect x="641.0" y="467.0" width="1.0" height="2.0" fill="#ff50ff"/>
<rect x="644.0" y="451.0" width="1.0" height="1.0" fill="#ff50ff"/>
<rect x="666.0" y="463.0" width="1.0" height="2.0" fill="#ff50ff"/>
<rect x="685.0" y="461.0" width="1.0" height="1.0" fill="#ff50ff"/>
<rect x="668.0" y="458.0" width="1.0" height="1.0" fill="#ff50ff"/>
<rect x="639.0" y="470.0" width="1.0" height="1.0" fill="#ff50ff"/>
<rect x="675.0" y="473.0" width="1.0" height="2.0" fill="#ff50ff"/>
<rect x="659.0" y="473.0" width="1.0" height="2.0" fill="#ff50ff"/>
<rect x="661.0" y="459.0" width="1.0" height="1.0" fill="#ff50ff"/>
<rect x="659.0" y="463.0" width="1.0" height="1.0" fill="#ff50ff"/>
<rect x="652.0" y="468.0" width="1.0" height="1.0" fill="#ff50ff"/>
<rect x="665.0" y="474.0" width="1.0" height="1.0" fill="#ff50ff"/>
<rect x="657.0" y="472.0" width="1.0" height="1.0" fill="#ff50ff"/>
<rect x="679.0" y="461.0" width="1.0" height="1.0" fill="#ff50ff"/>
<rect x="647.0" y="470.0" width="1.0" height="2.0" fill="#ff50ff"/>
<rect x="686.0" y="466.0" width="1.0" height="2.0" fill="#ff50ff"/>
<rect x="657.0" y="463.0" width="1.0" height="2.0" fill="#ff50ff"/>
<rect x="653.0" y="465.0" width="1.0" height="2.0" fill="#ff50ff"/>
<rect x="653.0" y="481.0" width="1.0" height="1.0" fill="#ff50ff"/>
<rect x="643.0" y="464.0" width="1.0" height="1.0" fill="#ff50ff"/>
<rect x="637.0" y="458.0" width="1.0" height="1.0" fill="#ff50ff"/>
<rect x="659.0" y="470.0" width="1.0" height="1.0" fill="#ff50ff"/>
<rect x="686.0" y="469.0" width="1.0" height="2.0" fill="#ff50ff"/>
<rect x="642.0" y="459.0" width="1.0" height="2.0" fill="#ff50ff"/>
<rect x="686.0" y="483.0" width="1.0" height="2.0" fill="#ff50ff"/>
<rect x="686.0" y="468.0" width="1.0" height="1.0" fill="#ff50ff"/>
<rect x="647.0" y="455.0" width="1.0" height="1.0" fill="#ff50ff"/>
<rect x="639.0" y="477.0" width="1.0" height="1.0" fill="#ff50ff"/>
<rect x="647.0" y="467.0" width="1.0" height="2.0" fill="#ff50ff"/>
<rect x="678.0" y="481.0" width="1.0" height="2.0" fill="#ff50ff"/>
<rect x="640.0" y="476.0" width="1.0" height="1.0" fill="#ff50ff"/>
<rect x="637.0" y="473.0" width="1.0" height="2.0" fill="#ff50ff"/>
<rect x="661.0" y="473.0" width="1.0" height="1.0" fill="#ff50ff"/>
<rect x="680.0" y="469.0" width="1.0" height="1.0" fill="#ff50ff"/>
<rect x="677.0" y="472.0" width="1.0" height="1.0" fill="#ff50ff"/>
<rect x="673.0" y="474.0" width="1.0" height="1.0" fill="#ff50ff"/>
<rect x="671.0" y="477.0" width="1.0" height="2.0" fill="#ff50ff"/>
<rect x="681.0" y="461.0" width="1.0" height="1.0" fill="#ff50ff"/>
<rect x="642.0" y="462.0" width="1.0" height="2.0" fill="#ff50ff"/>
<rect x="648.0" y="466.0" width="1.0" height="2.0" fill="#ff50ff"/>
<rect x="651.0" y="462.0" width="1.0" height="1.0" fill="#ff50ff"/>
<rect x="683.0" y="472.0" width="1.0" height="2.0" fill="#ff50ff"/>
<rect x="664.0" y="467.0" width="1.0" height="1.0" fill="#ff50ff"/>
<rect x="651.0" y="472.0" width="1.0" height="1.0" fill="#ff50ff"/>
<rect x="640.0" y="465.0" width="1.0" height="2.0" fill="#ff50ff"/>
<rect x="659.0" y="472.0" width="1.0" height="2.0" fill="#ff50ff"/>
<rect x="663.0" y="469.0" width="1.0" height="1.0" fill="#ff50ff"/>
<rect x="641.0" y="473.0" width="1.0" height="2.0" fill="#ff50ff"/>
<rect x="669.0" y="474.0" width="1.0" height="1.0" fill="#ff50ff"/>
<rect x="666.0" y="476.0" width="1.0" height="2.0" fill="#ff50ff"/>
<rect x="672.0" y="463.0" width="1.0" height="1.0" fill="#ff50ff"/>
<rect x="638.0" y="461.0" width="1.0" height="2.0" fill="#ff50ff"/>
<rect x="652.0" y="461.0" width="1.0" height="1.0" fill="#ff50ff"/>
<rect x="640.0" y="455.0" width="1.0" height="1.0" fill="#ff50ff"/>
<rect x="676.0" y="464.0" width="1.0" height="2.0" fill="#ff50ff"/>
<rect x="654.0" y="461.0" width="1.0" height="2.0" fill="#ff50ff"/>
<rect x="684.0" y="452.0" width="1.0" height="1.0" fill="#ff50ff"/>
<rect x="680.0" y="457.0" width="1.0" height="2.0" fill="#ff50ff"/>
<rect x="655.0" y="463.0" width="1.0" height="1.0" fill="#ff50ff"/>
<rect x="667.0" y="478.0" width="1.0" height="2.0" fill="#ff50ff"/>
<rect x="680.0" y="473.0" width="1.0" height="2.0" fill="#ff50ff"/>
<rect x="656.0" y="467.0" width="1.0" height="2.0" fill="#ff50ff"/>
<rect x="660.0" y="457.0" width="1.0" height="1.0" fill="#ff50ff"/>
<rect x="662.0" y="461.0" width="1.0" height="1.0" fill="#ff50ff"/>
<rect x="661.0" y="467.0" width="1.0" height="1.0" fill="#ff50ff"/>
<rect x="684.0" y="478.0" width="1.0" height="2.0" fill="#ff50ff"/>
<rect x="649.0" y="477.0" width="1.0" height="1.0" fill="#ff50ff"/>
<rect x="655.0" y="474.0" width="1.0" height="1.0" fill="#ff50ff"/>
<rect x="674.0" y="476.0" width="1.0" height="2.0" fill="#ff50ff"/>
<rect x="669.0" y="452.0" width="1.0" height="2.0" fill="#ff50ff"/>
<rect x="657.0" y="474.0" width="1.0" height="2.0" fill="#ff50ff"/>
<rect x="646.0" y="454.0" width="1.0" height="1.0" fill="#ff50ff"/>
<rect x="681.0" y="474.0" width="1.0" height="2.0" fill="#ff50ff"/>
<rect x="647.0" y="472.0" width="1.0" height="1.0" fill="#ff50ff"/>
<rect x="661.0" y="465.0" width="1.0" height="1.0" fill="#ff50ff"/>
<rect x="602.0" y="452.0" width="1.0" height="2.0" fill="#ff50ff"/>
<rect x="604.0" y="453.0" width="1.0" height="2.0" fill="#ff50ff"/>
<rect x="608.0" y="452.0" width="1.0" height="2.0" fill="#ff50ff"/>
<rect x="612.0" y="459.0" width="1.0" height="2.0" fill="#ff50ff"/>
<rect x="600.0" y="469.0" width="1.0" height="2.0" fill="#ff50ff"/>
<rect x="602.0" y="468.0" width="1.0" height="2.0" fill="#ff50ff"/>
<rect x="606.0" y="468.0" width="1.0" height="2.0" fill="#ff50ff"/>
<rect x="619.0" y="481.0" width="1.0" height="2.0" fill="#ff50ff"/>
<rect x="623.0" y="480.0" width="1.0" height="2.0" fill="#ff50ff"/>
<rect x="629.0" y="480.0" width="1.0" height="2.0" fill="#ff50ff"/>
<rect x="637.0" y="478.0" width="1.0" height="2.0" fill="#ff50ff"/>
<rect x="636.0" y="481.0" width="1.0" height="2.0" fill="#ff50ff"/>
<rect x="642.0" y="481.0" width="1.0" height="2.0" fill="#ff50ff"/>
<rect x="654.0" y="478.0" width="1.0" height="2.0" fill="#ff50ff"/>
<rect x="658.0" y="474.0" width="1.0" height="2.0" fill="#ff50ff"/>
<rect x="659.0" y="474.0" width="1.0" height="2.0" fill="#ff50ff"/>
<rect x="629.0" y="473.0" width="1.0" height="1.0" fill="#0000ff"/>
<rect x="654.0" y="478.0" width="1.0" height="1.0" fill="#0000ff"/>
<rect x="631.0" y="474.0" width="1.0" height="1.0" fill="#0000ff"/>
<rect x="628.0" y="448.0" width="1.0" height="1.0" fill="#ff50ff"/>
<rect x="634.0" y="449.0" width="1.0" height="1.0" fill="#ff50ff"/>
<rect x="633.0" y="449.0" width="1.0" height="1.0" fill="#ff50ff"/>
<rect x="637.0" y="448.0" width="1.0" height="1.0" fill="#ff50ff"/>
<rect x="632.0" y="446.0" width="1.0" height="1.0" fill="#ff50ff"/>
<rect x="636.0" y="446.0" width="1.0" height="1.0" fill="#ff50ff"/>
<rect x="636.0" y="448.0" width="1.0" height="1.0" fill="#ff50ff"/>
<rect x="637.0" y="447.0" width="1.0" height="1.0" fill="#ff50ff"/>
<rect x="637.0" y="448.0" width="1.0" height="1.0" fill="#ff50ff"/>
<rect x="636.0" y="460.0" width="1.0" height="1.0" fill="#ff50ff"/>
<rect x="641.0" y="449.0" width="1.0" height="1.0" fill="#ff50ff"/>
<rect x="635.0" y="458.0" width="1.0" height="1.0" fill="#ff50ff"/>
<rect x="641.0" y="452.0" width="1.0" height="1.0" fill="#ff50ff"/>
<rect x="641.0" y="456.0" width="1.0" height="1.0" fill="#ff50ff"/>
<rect x="636.0" y="451.0" width="1.0" height="1.0" fill="#ff50ff"/>
<rect x="642.0" y="459.0" width="1.0" height="1.0" fill="#ff50ff"/>
<rect x="640.0" y="461.0" width="1.0" height="1.0" fill="#ff50ff"/>
<rect x="635.0" y="454.0" width="1.0" height="1.0" fill="#ff50ff"/>
<rect x="636.0" y="455.0" width="1.0" height="1.0" fill="#ff50ff"/>
<rect x="634.0" y="454.0" width="1.0" height="1.0" fill="#ff50ff"/>
<rect x="641.0" y="453.0" width="1.0" height="1.0" fill="#ff50ff"/>
<rect x="635.0" y="459.0" width="1.0" height="1.0" fill="#ff50ff"/>
<rect x="625.0" y="450.0" width="1.0" height="1.0" fill="#ff50ff"/>
<rect x="628.0" y="450.0" width="1.0" height="1.0" fill="#0000ff"/>
<rect x="629.0" y="450.0" width="1.0" height="1.0" fill="#0000ff"/>
<rect x="630.0" y="450.0" width="1.0" height="1.0" fill="#0000ff"/>
<rect x="631.0" y="450.0" width="1.0" height="1.0" fill="#0000ff"/>
<rect x="626.0" y="451.0" width="1.0" height="1.0" fill="#0000ff"/>
<rect x="627.0" y="451.0" width="1.0" height="1.0" fill="#0000ff"/>
<rect x="628.0" y="451.0" width="1.0" height="1.0" fill="#0000ff"/>
<rect x="629.0" y="451.0" width="1.0" height="1.0" fill="#0000ff"/>
<rect x="632.0" y="451.0" width="1.0" height="1.0" fill="#ff50ff"/>
<rect x="626.0" y="452.0" width="1.0" height="1.0" fill="#0000ff"/>
<rect x="628.0" y="452.0" width="1.0" height="1.0" fill="#0000ff"/>
<rect x="631.0" y="452.0" width="1.0" height="1.0" fill="#0000ff"/>
<rect x="632.0" y="452.0" width="1.0" height="1.0" fill="#ff50ff"/>
<rect x="626.0" y="453.0" width="1.0" height="1.0" fill="#0000ff"/>
<rect x="628.0" y="453.0" width="1.0" height="1.0" fill="#0080ff"/>
<rect x="629.0" y="453.0" width="1.0" height="1.0" fill="#ff50ff"/>
<rect x="630.0" y="453.0" width="1.0" height="1.0" fill="#0080ff"/>
<rect x="631.0" y="453.0" width="1.0" height="1.0" fill="#ff50ff"/>
<rect x="632.0" y="453.0" width="1.0" height="1.0" fill="#0000ff"/>
<rect x="633.0" y="453.0" width="1.0" height="1.0" fill="#ff50ff"/>
<rect x="623.0" y="454.0" width="1.0" height="1.0" fill="#0080ff"/>
<rect x="624.0" y="454.0" width="1.0" height="1.0" fill="#0000ff"/>
<rect x="626.0" y="454.0" width="1.0" height="1.0" fill="#0080ff"/>
<rect x="627.0" y="454.0" width="1.0" height="1.0" fill="#ff50ff"/>
<rect x="629.0" y="454.0" width="1.0" height="1.0" fill="#ff50ff"/>
<rect x="630.0" y="454.0" width="1.0" height="1.0" fill="#0000ff"/>
<rect x="631.0" y="454.0" width="1.0" height="1.0" fill="#ff50ff"/>
<rect x="623.0" y="455.0" width="1.0" height="1.0" fill="#0000ff"/>
<rect x="624.0" y="455.0" width="1.0" height="1.0" fill="#0080ff"/>
<rect x="625.0" y="455.0" width="1.0" height="1.0" fill="#0000ff"/>
<rect x="626.0" y="455.0" width="1.0" height="1.0" fill="#ff50ff"/>
<rect x="628.0" y="455.0" width="1.0" height="1.0" fill="#0000ff"/>
<rect x="629.0" y="455.0" width="1.0" height="1.0" fill="#8000ff"/>
<rect x="630.0" y="455.0" width="1.0" height="1.0" fill="#8000ff"/>
<rect x="631.0" y="455.0" width="1.0" height="1.0" fill="#0080ff"/>
<rect x="632.0" y="455.0" width="1.0" height="1.0" fill="#ff50ff"/>
<rect x="623.0" y="456.0" width="1.0" height="1.0" fill="#0080ff"/>
<rect x="628.0" y="456.0" width="1.0" height="1.0" fill="#8000ff"/>
<rect x="629.0" y="456.0" width="1.0" height="1.0" fill="#0080ff"/>
<rect x="631.0" y="456.0" width="1.0" height="1.0" fill="#ff50ff"/>
<rect x="623.0" y="457.0" width="1.0" height="1.0" fill="#ff50ff"/>
<rect x="624.0" y="457.0" width="1.0" height="1.0" fill="#0080ff"/>
<rect x="626.0" y="457.0" width="1.0" height="1.0" fill="#8000ff"/>
<rect x="628.0" y="457.0" width="1.0" height="1.0" fill="#0000ff"/>
<rect x="629.0" y="457.0" width="1.0" height="1.0" fill="#0000ff"/>
<rect x="631.0" y="457.0" width="1.0" height="1.0" fill="#ff50ff"/>
<rect x="623.0" y="458.0" width="1.0" height="1.0" fill="#0000ff"/>
<rect x="624.0" y="458.0" width="1.0" height="1.0" fill="#0000ff"/>
<rect x="625.0" y="458.0" width="1.0" height="1.0" fill="#0000ff"/>
<rect x="626.0" y="458.0" width="1.0" height="1.0" fill="#ff50ff"/>
<rect x="627.0" y="458.0" width="1.0" height="1.0" fill="#8000ff"/>
<rect x="628.0" y="458.0" width="1.0" height="1.0" fill="#ff50ff"/>
<rect x="631.0" y="458.0" width="1.0" height="1.0" fill="#0080ff"/>
<rect x="625.0" y="459.0" width="1.0" height="1.0" fill="#0000ff"/>
<rect x="632.0" y="459.0" width="1.0" height="1.0" fill="#0000ff"/>
<rect x="625.0" y="460.0" width="1.0" height="1.0" fill="#ff50ff"/>
<rect x="626.0" y="460.0" width="1.0" height="1.0" fill="#ff50ff"/>
<rect x="629.0" y="460.0" width="1.0" height="1.0" fill="#ff50ff"/>
<rect x="630.0" y="460.0" width="1.0" height="1.0" fill="#ff50ff"/>
<rect x="631.0" y="460.0" width="1.0" height="1.0" fill="#ff50ff"/>
<rect x="626.0" y="461.0" width="1.0" height="1.0" fill="#ff50ff"/>
<rect x="628.0" y="461.0" width="1.0" height="1.0" fill="#ff50ff"/>
<rect x="633.0" y="461.0" width="1.0" height="1.0" fill="#ff50ff"/>
<rect x="624.0" y="462.0" width="1.0" height="1.0" fill="#ff50ff"/>
<rect x="626.0" y="462.0" width="1.0" height="1.0" fill="#0000ff"/>
<rect x="629.0" y="462.0" width="1.0" height="1.0" fill="#ff50ff"/>
<rect x="630.0" y="463.0" width="1.0" height="1.0" fill="#ff50ff"/>
<rect x="632.0" y="463.0" width="1.0" height="1.0" fill="#ff50ff"/>
<rect x="624.0" y="464.0" width="1.0" height="1.0" fill="#ff50ff"/>
<rect x="623.0" y="465.0" width="1.0" height="1.0" fill="#00ffff"/>
<rect x="625.0" y="465.0" width="1.0" height="1.0" fill="#00ffff"/>
<rect x="626.0" y="465.0" width="1.0" height="1.0" fill="#0080ff"/>
<rect x="628.0" y="465.0" width="1.0" height="1.0" fill="#008040"/>
<rect x="629.0" y="465.0" width="1.0" height="1.0" fill="#0000ff"/>
<rect x="631.0" y="465.0" width="1.0" height="1.0" fill="#00ffff"/>
<rect x="634.0" y="465.0" width="1.0" height="1.0" fill="#00ff00"/>
<rect x="635.0" y="465.0" width="1.0" height="1.0" fill="#0000ff"/>
<rect x="621.0" y="466.0" width="1.0" height="1.0" fill="#0000ff"/>
<rect x="623.0" y="466.0" width="1.0" height="1.0" fill="#00ff00"/>
<rect x="624.0" y="466.0" width="1.0" height="1.0" fill="#ff50ff"/>
<rect x="625.0" y="466.0" width="1.0" height="1.0" fill="#00ffff"/>
<rect x="627.0" y="466.0" width="1.0" height="1.0" fill="#008040"/>
<rect x="628.0" y="466.0" width="1.0" height="1.0" fill="#008040"/>
<rect x="630.0" y="466.0" width="1.0" height="1.0" fill="#008040"/>
<rect x="631.0" y="466.0" width="1.0" height="1.0" fill="#0080ff"/>
<rect x="634.0" y="466.0" width="1.0" height="1.0" fill="#00ffff"/>
<rect x="635.0" y="466.0" width="1.0" height="1.0" fill="#0000ff"/>
<rect x="622.0" y="467.0" width="1.0" height="1.0" fill="#0000ff"/>
<rect x="623.0" y="467.0" width="1.0" height="1.0" fill="#0080ff"/>
<rect x="624.0" y="467.0" width="1.0" height="1.0" fill="#ff50ff"/>
<rect x="625.0" y="467.0" width="1.0" height="1.0" fill="#0080ff"/>
<rect x="626.0" y="467.0" width="1.0" height="1.0" fill="#00ffff"/>
<rect x="629.0" y="467.0" width="1.0" height="1.0" fill="#0080ff"/>
<rect x="631.0" y="467.0" width="1.0" height="1.0" fill="#00ffff"/>
<rect x="632.0" y="467.0" width="1.0" height="1.0" fill="#0080ff"/>
<rect x="634.0" y="467.0" width="1.0" height="1.0" fill="#0000ff"/>
<rect x="635.0" y="467.0" width="1.0" height="1.0" fill="#ff50ff"/>
<rect x="621.0" y="468.0" width="1.0" height="1.0" fill="#ff50ff"/>
<rect x="622.0" y="468.0" width="1.0" height="1.0" fill="#008040"/>
<rect x="625.0" y="468.0" width="1.0" height="1.0" fill="#0000ff"/>
<rect x="628.0" y="468.0" width="1.0" height="1.0" fill="#00ffff"/>
<rect x="629.0" y="468.0" width="1.0" height="1.0" fill="#008040"/>
<rect x="632.0" y="468.0" width="1.0" height="1.0" fill="#008040"/>
<rect x="621.0" y="469.0" width="1.0" height="1.0" fill="#008040"/>
<rect x="623.0" y="469.0" width="1.0" height="1.0" fill="#0000ff"/>
<rect x="624.0" y="469.0" width="1.0" height="1.0" fill="#0000ff"/>
<rect x="626.0" y="469.0" width="1.0" height="1.0" fill="#00ff00"/>
<rect x="627.0" y="469.0" width="1.0" height="1.0" fill="#008040"/>
<rect x="628.0" y="469.0" width="1.0" height="1.0" fill="#00ff00"/>
<rect x="629.0" y="469.0" width="1.0" height="1.0" fill="#008040"/>
<rect x="630.0" y="469.0" width="1.0" height="1.0" fill="#00ffff"/>
<rect x="632.0" y="469.0" width="1.0" height="1.0" fill="#0000ff"/>
<rect x="634.0" y="469.0" width="1.0" height="1.0" fill="#00ff00"/>
<rect x="635.0" y="469.0" width="1.0" height="1.0" fill="#ff50ff"/>
<rect x="621.0" y="470.0" width="1.0" height="1.0" fill="#0000ff"/>
<rect x="623.0" y="470.0" width="1.0" height="1.0" fill="#00ffff"/>
<rect x="624.0" y="470.0" width="1.0" height="1.0" fill="#0000ff"/>
<rect x="625.0" y="470.0" width="1.0" height="1.0" fill="#008040"/>
<rect x="626.0" y="470.0" width="1.0" height="1.0" fill="#0000ff"/>
<rect x="627.0" y="470.0" width="1.0" height="1.0" fill="#ff50ff"/>
<rect x="628.0" y="470.0" width="1.0" height="1.0" fill="#0000ff"/>
<rect x="629.0" y="470.0" width="1.0" height="1.0" fill="#ff50ff"/>
<rect x="631.0" y="470.0" width="1.0" height="1.0" fill="#ff50ff"/>
<rect x="632.0" y="470.0" width="1.0" height="1.0" fill="#00ffff"/>
<rect x="633.0" y="470.0" width="1.0" height="1.0" fill="#00ff00"/>
<rect x="635.0" y="470.0" width="1.0" height="1.0" fill="#00ff00"/>
<rect x="621.0" y="468.0" width="1.0" height="1.0" fill="#ff50ff"/>
<rect x="628.0" y="469.0" width="1.0" height="1.0" fill="#ff50ff"/>
<rect x="628.0" y="467.0" width="1.0" height="1.0" fill="#ff50ff"/>
<rect x="640.0" y="468.0" width="1.0" height="1.0" fill="#ff50ff"/>
<rect x="629.0" y="469.0" width="1.0" height="1.0" fill="#ff50ff"/>
<rect x="633.0" y="470.0" width="1.0" height="1.0" fill="#ff50ff"/>
<rect x="629.0" y="467.0" width="1.0" height="1.0" fill="#ff50ff"/>
<rect x="621.0" y="468.0" width="1.0" height="1.0" fill="#ff50ff"/>
<rect x="638.0" y="468.0" width="5.0" height="1.0" fill="#0000ff"/>
<rect x="621.0" y="485.0" width="2.0" height="1.0" fill="#00ff00"/>
<rect x="620.0" y="486.0" width="1.0" height="1.0" fill="#ff50ff"/>
<rect x="623.0" y="485.0" width="1.0" height="2.0" fill="#ff50ff"/>
<rect x="621.0" y="487.0" width="1.0" height="2.0" fill="#ff50ff"/>
<rect x="618.0" y="487.0" width="1.0" height="1.0" fill="#ff50ff"/>
<rect x="623.0" y="511.0" width="1.0" height="1.0" fill="#ff50ff"/>
<rect x="618.0" y="508.0" width="1.0" height="1.0" fill="#ff50ff"/>
<rect x="629.0" y="494.0" width="1.0" height="1.0" fill="#ff50ff"/>
<rect x="617.0" y="492.0" width="1.0" height="1.0" fill="#ff50ff"/>
<rect x="612.0" y="497.0" width="1.0" height="1.0" fill="#ff50ff"/>
<rect x="629.0" y="495.0" width="1.0" height="1.0" fill="#ff50ff"/>
<rect x="612.0" y="510.0" width="1.0" height="1.0" fill="#ff50ff"/>
<rect x="630.0" y="507.0" width="1.0" height="1.0" fill="#ff50ff"/>
<rect x="622.0" y="492.0" width="1.0" height="1.0" fill="#ff50ff"/>
<rect x="622.0" y="492.0" width="1.0" height="1.0" fill="#ff50ff"/>
<rect x="615.0" y="510.0" width="1.0" height="1.0" fill="#ff50ff"/>
<rect x="619.0" y="505.0" width="1.0" height="1.0" fill="#ff50ff"/>
<rect x="626.0" y="502.0" width="1.0" height="1.0" fill="#ff50ff"/>
<rect x="622.0" y="511.0" width="1.0" height="1.0" fill="#ff50ff"/>
<rect x="627.0" y="507.0" width="1.0" height="1.0" fill="#ff50ff"/>
<rect x="613.0" y="503.0" width="1.0" height="1.0" fill="#ff50ff"/>
<rect x="612.0" y="502.0" width="1.0" height="1.0" fill="#ff50ff"/>
<rect x="629.0" y="510.0" width="1.0" height="1.0" fill="#ff50ff"/>
<rect x="612.0" y="493.0" width="1.0" height="1.0" fill="#ff50ff"/>
<rect x="616.0" y="497.0" width="1.0" height="1.0" fill="#ff50ff"/>
<rect x="624.0" y="511.0" width="1.0" height="1.0" fill="#ff50ff"/>
<rect x="618.0" y="502.0" width="1.0" height="1.0" fill="#ff50ff"/>
<rect x="620.0" y="491.0" width="1.0" height="1.0" fill="#ff50ff"/>
<rect x="615.0" y="499.0" width="1.0" height="1.0" fill="#ff50ff"/>
<rect x="617.0" y="491.0" width="1.0" height="1.0" fill="#ff50ff"/>
<rect x="630.0" y="505.0" width="1.0" height="1.0" fill="#ff50ff"/>
<rect x="615.0" y="496.0" width="1.0" height="1.0" fill="#ff50ff"/>
<rect x="618.0" y="508.0" width="1.0" height="1.0" fill="#ff50ff"/>
<rect x="628.0" y="497.0" width="1.0" height="1.0" fill="#ff50ff"/>
<rect x="620.0" y="502.0" width="1.0" height="1.0" fill="#ff50ff"/>
<rect x="629.0" y="507.0" width="1.0" height="1.0" fill="#ff50ff"/>
<rect x="627.0" y="502.0" width="1.0" height="1.0" fill="#ff50ff"/>
<rect x="627.0" y="497.0" width="1.0" height="1.0" fill="#ff50ff"/>
<rect x="618.0" y="494.0" width="1.0" height="1.0" fill="#ff50ff"/>
<rect x="613.0" y="511.0" width="1.0" height="1.0" fill="#ff50ff"/>
<rect x="627.0" y="501.0" width="1.0" height="1.0" fill="#ff50ff"/>
<rect x="625.0" y="509.0" width="1.0" height="1.0" fill="#ff50ff"/>
<rect x="617.0" y="500.0" width="1.0" height="1.0" fill="#ff50ff"/>
<rect x="628.0" y="494.0" width="1.0" height="1.0" fill="#ff50ff"/>
<rect x="628.0" y="507.0" width="1.0" height="1.0" fill="#ff50ff"/>
<rect x="615.0" y="491.0" width="1.0" height="1.0" fill="#0000ff"/>
<rect x="616.0" y="491.0" width="1.0" height="1.0" fill="#0000ff"/>
<rect x="618.0" y="491.0" width="1.0" height="1.0" fill="#0080ff"/>
<rect x="619.0" y="491.0" width="1.0" height="1.0" fill="#0000ff"/>
<rect x="620.0" y="491.0" width="1.0" height="1.0" fill="#00ff00"/>
<rect x="621.0" y="491.0" width="1.0" height="1.0" fill="#ff50ff"/>
<rect x="623.0" y="491.0" width="1.0" height="1.0" fill="#0000ff"/>
<rect x="615.0" y="492.0" width="1.0" height="1.0" fill="#0000ff"/>
<rect x="616.0" y="492.0" width="1.0" height="1.0" fill="#00ffff"/>
<rect x="617.0" y="492.0" width="1.0" height="1.0" fill="#00ff00"/>
<rect x="618.0" y="492.0" width="1.0" height="1.0" fill="#0000ff"/>
<rect x="619.0" y="492.0" width="1.0" height="1.0" fill="#00ff00"/>
<rect x="620.0" y="492.0" width="1.0" height="1.0" fill="#0080ff"/>
<rect x="621.0" y="492.0" width="1.0" height="1.0" fill="#00ff00"/>
<rect x="622.0" y="492.0" width="1.0" height="1.0" fill="#0080ff"/>
<rect x="615.0" y="493.0" width="1.0" height="1.0" fill="#ff50ff"/>
<rect x="616.0" y="493.0" width="1.0" height="1.0" fill="#00ffff"/>
<rect x="617.0" y="493.0" width="1.0" height="1.0" fill="#00ffff"/>
<rect x="618.0" y="493.0" width="1.0" height="1.0" fill="#00ff00"/>
<rect x="621.0" y="493.0" width="1.0" height="1.0" fill="#00ff00"/>
<rect x="622.0" y="493.0" width="1.0" height="1.0" fill="#00ff00"/>
<rect x="615.0" y="494.0" width="1.0" height="1.0" fill="#0080ff"/>
<rect x="616.0" y="494.0" width="1.0" height="1.0" fill="#00ff00"/>
<rect x="622.0" y="494.0" width="1.0" height="1.0" fill="#00ffff"/>
<rect x="623.0" y="494.0" width="1.0" height="1.0" fill="#0000ff"/>
<rect x="623.0" y="491.0" width="2.0" height="2.0" fill="#ff0000"/>
<rect x="625.0" y="492.0" width="1.0" height="2.0" fill="#ffff00"/>
<rect x="624.0" y="490.0" width="2.0" height="1.0" fill="#00ff00"/>
<rect x="616.0" y="495.0" width="1.0" height="1.0" fill="#ffc080"/>
<rect x="618.0" y="495.0" width="1.0" height="1.0" fill="#ffc080"/>
<rect x="619.0" y="495.0" width="1.0" height="1.0" fill="#ff8000"/>
<rect x="620.0" y="495.0" width="1.0" height="1.0" fill="#ffc080"/>
<rect x="621.0" y="495.0" width="1.0" height="1.0" fill="#ffc080"/>
<rect x="622.0" y="495.0" width="1.0" height="1.0" fill="#ffc080"/>
<rect x="623.0" y="495.0" width="1.0" height="1.0" fill="#00ff00"/>
<rect x="624.0" y="495.0" width="1.0" height="1.0" fill="#ff8000"/>
<rect x="625.0" y="495.0" width="1.0" height="1.0" fill="#ff8000"/>
<rect x="626.0" y="495.0" width="1.0" height="1.0" fill="#ff8000"/>
<rect x="616.0" y="496.0" width="1.0" height="1.0" fill="#00ff00"/>
<rect x="617.0" y="496.0" width="1.0" height="1.0" fill="#00ff00"/>
<rect x="618.0" y="496.0" width="1.0" height="1.0" fill="#ffc080"/>
<rect x="619.0" y="496.0" width="1.0" height="1.0" fill="#ffc080"/>
<rect x="620.0" y="496.0" width="1.0" height="1.0" fill="#ffc080"/>
<rect x="621.0" y="496.0" width="1.0" height="1.0" fill="#ffc080"/>
<rect x="622.0" y="496.0" width="1.0" height="1.0" fill="#00ff00"/>
<rect x="624.0" y="496.0" width="1.0" height="1.0" fill="#ff8000"/>
<rect x="616.0" y="497.0" width="1.0" height="1.0" fill="#ffc080"/>
<rect x="618.0" y="497.0" width="1.0" height="1.0" fill="#00ff00"/>
<rect x="619.0" y="497.0" width="1.0" height="1.0" fill="#ffc080"/>
<rect x="622.0" y="497.0" width="1.0" height="1.0" fill="#ffff00"/>
<rect x="623.0" y="497.0" width="1.0" height="1.0" fill="#ffc080"/>
<rect x="624.0" y="497.0" width="1.0" height="1.0" fill="#ffc080"/>
<rect x="625.0" y="497.0" width="1.0" height="1.0" fill="#00ff00"/>
<rect x="626.0" y="497.0" width="1.0" height="1.0" fill="#00ff00"/>
<rect x="618.0" y="495.0" width="6.0" height="2.0" fill="#ffc080"/>
<rect x="616.0" y="495.0" width="2.0" height="2.0" fill="#00ff00"/>
<rect x="624.0" y="495.0" width="2.0" height="2.0" fill="#00ff00"/>
<rect x="627.0" y="495.0" width="2.0" height="2.0" fill="#0000ff"/>
<rect x="614.0" y="498.0" width="1.0" height="1.0" fill="#00ff00"/>
<rect x="617.0" y="498.0" width="1.0" height="1.0" fill="#ffff00"/>
<rect x="618.0" y="498.0" width="1.0" height="1.0" fill="#ffff00"/>
<rect x="620.0" y="498.0" width="1.0" height="1.0" fill="#00ff00"/>
<rect x="621.0" y="498.0" width="1.0" height="1.0" fill="#ffff00"/>
<rect x="622.0" y="498.0" width="1.0" height="1.0" fill="#0000ff"/>
<rect x="623.0" y="498.0" width="1.0" height="1.0" fill="#ffff00"/>
<rect x="614.0" y="499.0" width="1.0" height="1.0" fill="#ffff00"/>
<rect x="615.0" y="499.0" width="1.0" height="1.0" fill="#0000ff"/>
<rect x="616.0" y="499.0" width="1.0" height="1.0" fill="#ffff00"/>
<rect x="618.0" y="499.0" width="1.0" height="1.0" fill="#00ffff"/>
<rect x="619.0" y="499.0" width="1.0" height="1.0" fill="#0000ff"/>
<rect x="620.0" y="499.0" width="1.0" height="1.0" fill="#0000ff"/>
<rect x="622.0" y="499.0" width="1.0" height="1.0" fill="#00ffff"/>
<rect x="624.0" y="499.0" width="1.0" height="1.0" fill="#0000ff"/>
<rect x="614.0" y="500.0" width="1.0" height="1.0" fill="#ffff00"/>
<rect x="615.0" y="500.0" width="1.0" height="1.0" fill="#ffff00"/>
<rect x="616.0" y="500.0" width="1.0" height="1.0" fill="#00ff00"/>
<rect x="617.0" y="500.0" width="1.0" height="1.0" fill="#0000ff"/>
<rect x="620.0" y="500.0" width="1.0" height="1.0" fill="#0000ff"/>
<rect x="622.0" y="500.0" width="1.0" height="1.0" fill="#0000ff"/>
<rect x="624.0" y="500.0" width="1.0" height="1.0" fill="#ffff00"/>
<rect x="617.0" y="501.0" width="1.0" height="1.0" fill="#ffff00"/>
<rect x="618.0" y="501.0" width="1.0" height="1.0" fill="#008040"/>
<rect x="619.0" y="501.0" width="1.0" height="1.0" fill="#00ff00"/>
<rect x="620.0" y="501.0" width="1.0" height="1.0" fill="#ffff00"/>
<rect x="621.0" y="501.0" width="1.0" height="1.0" fill="#00ff00"/>
<rect x="622.0" y="501.0" width="1.0" height="1.0" fill="#008040"/>
<rect x="623.0" y="501.0" width="1.0" height="1.0" fill="#00ff00"/>
<rect x="617.0" y="502.0" width="1.0" height="1.0" fill="#ffff00"/>
<rect x="618.0" y="502.0" width="1.0" height="1.0" fill="#008040"/>
<rect x="619.0" y="502.0" width="1.0" height="1.0" fill="#ffff00"/>
<rect x="620.0" y="502.0" width="1.0" height="1.0" fill="#ffff00"/>
<rect x="621.0" y="502.0" width="1.0" height="1.0" fill="#ffff00"/>
<rect x="622.0" y="502.0" width="1.0" height="1.0" fill="#008040"/>
<rect x="623.0" y="502.0" width="1.0" height="1.0" fill="#ffff00"/>
<rect x="617.0" y="503.0" width="1.0" height="1.0" fill="#00ff00"/>
<rect x="618.0" y="503.0" width="1.0" height="1.0" fill="#00ff00"/>
<rect x="619.0" y="503.0" width="1.0" height="1.0" fill="#00ff00"/>
<rect x="621.0" y="503.0" width="1.0" height="1.0" fill="#00ff00"/>
<rect x="617.0" y="504.0" width="1.0" height="1.0" fill="#00ffff"/>
<rect x="618.0" y="504.0" width="1.0" height="1.0" fill="#0000ff"/>
<rect x="620.0" y="504.0" width="1.0" height="1.0" fill="#00ffff"/>
<rect x="621.0" y="504.0" width="1.0" height="1.0" fill="#0000ff"/>
<rect x="622.0" y="504.0" width="1.0" height="1.0" fill="#0000ff"/>
<rect x="623.0" y="504.0" width="1.0" height="1.0" fill="#00ffff"/>
<rect x="618.0" y="505.0" width="1.0" height="1.0" fill="#0000ff"/>
<rect x="621.0" y="505.0" width="1.0" height="1.0" fill="#00ffff"/>
<rect x="622.0" y="505.0" width="1.0" height="1.0" fill="#00ffff"/>
<rect x="617.0" y="506.0" width="1.0" height="1.0" fill="#0000ff"/>
<rect x="618.0" y="506.0" width="1.0" height="1.0" fill="#0080ff"/>
<rect x="619.0" y="506.0" width="1.0" height="1.0" fill="#00ffff"/>
<rect x="616.0" y="507.0" width="1.0" height="1.0" fill="#0000ff"/>
<rect x="617.0" y="507.0" width="1.0" height="1.0" fill="#ffff00"/>
<rect x="618.0" y="507.0" width="1.0" height="1.0" fill="#0000ff"/>
<rect x="619.0" y="507.0" width="1.0" height="1.0" fill="#00ffff"/>
<rect x="620.0" y="507.0" width="1.0" height="1.0" fill="#ffff00"/>
<rect x="621.0" y="507.0" width="1.0" height="1.0" fill="#ff50ff"/>
<rect x="622.0" y="507.0" width="1.0" height="1.0" fill="#00ff00"/>
<rect x="624.0" y="507.0" width="1.0" height="1.0" fill="#ffff00"/>
<rect x="615.0" y="508.0" width="1.0" height="1.0" fill="#ff50ff"/>
<rect x="617.0" y="508.0" width="1.0" height="1.0" fill="#0080ff"/>
<rect x="618.0" y="508.0" width="1.0" height="1.0" fill="#00ff00"/>
<rect x="619.0" y="508.0" width="1.0" height="1.0" fill="#0000ff"/>
<rect x="620.0" y="508.0" width="1.0" height="1.0" fill="#0080ff"/>
<rect x="621.0" y="508.0" width="1.0" height="1.0" fill="#ff50ff"/>
<rect x="622.0" y="508.0" width="1.0" height="1.0" fill="#ff50ff"/>
<rect x="624.0" y="508.0" width="1.0" height="1.0" fill="#0000ff"/>
<rect x="615.0" y="509.0" width="1.0" height="1.0" fill="#0080ff"/>
<rect x="617.0" y="509.0" width="1.0" height="1.0" fill="#00ff00"/>
<rect x="618.0" y="509.0" width="1.0" height="1.0" fill="#00ff00"/>
<rect x="619.0" y="509.0" width="1.0" height="1.0" fill="#0000ff"/>
<rect x="620.0" y="509.0" width="1.0" height="1.0" fill="#0000ff"/>
<rect x="622.0" y="509.0" width="1.0" height="1.0" fill="#0000ff"/>
<rect x="615.0" y="510.0" width="1.0" height="1.0" fill="#ff50ff"/>
<rect x="616.0" y="510.0" width="1.0" height="1.0" fill="#ffff00"/>
<rect x="617.0" y="510.0" width="1.0" height="1.0" fill="#0000ff"/>
<rect x="618.0" y="510.0" width="1.0" height="1.0" fill="#00ff00"/>
<rect x="619.0" y="510.0" width="1.0" height="1.0" fill="#00ff00"/>
<rect x="620.0" y="510.0" width="1.0" height="1.0" fill="#0000ff"/>
<rect x="622.0" y="510.0" width="1.0" height="1.0" fill="#00ffff"/>
<rect x="623.0" y="510.0" width="1.0" height="1.0" fill="#00ff00"/>
<rect x="616.0" y="511.0" width="1.0" height="1.0" fill="#00ff00"/>
<rect x="617.0" y="511.0" width="1.0" height="1.0" fill="#00ffff"/>
<rect x="618.0" y="511.0" width="1.0" height="1.0" fill="#00ffff"/>
<rect x="619.0" y="511.0" width="1.0" height="1.0" fill="#00ffff"/>
<rect x="620.0" y="511.0" width="1.0" height="1.0" fill="#0000ff"/>
<rect x="621.0" y="511.0" width="1.0" height="1.0" fill="#0000ff"/>
<rect x="622.0" y="511.0" width="1.0" height="1.0" fill="#0000ff"/>
<rect x="624.0" y="511.0" width="1.0" height="1.0" fill="#0000ff"/>
<rect x="616.0" y="512.0" width="1.0" height="1.0" fill="#ffff00"/>
<rect x="617.0" y="512.0" width="1.0" height="1.0" fill="#0000ff"/>
<rect x="618.0" y="512.0" width="1.0" height="1.0" fill="#ffff00"/>
<rect x="620.0" y="512.0" width="1.0" height="1.0" fill="#ff50ff"/>
<rect x="622.0" y="512.0" width="1.0" height="1.0" fill="#0000ff"/>
<rect x="624.0" y="512.0" width="1.0" height="1.0" fill="#ffff00"/>
<rect x="626.0" y="510.0" width="3.0" height="1.0" fill="#0000ff"/>
<rect x="596.0" y="507.0" width="1.0" height="2.0" fill="#ff50ff"/>
<rect x="600.0" y="499.0" width="1.0" height="2.0" fill="#ff50ff"/>
<rect x="598.0" y="493.0" width="1.0" height="2.0" fill="#ff50ff"/>
<rect x="597.0" y="508.0" width="1.0" height="2.0" fill="#ff50ff"/>
<rect x="599.0" y="511.0" width="1.0" height="2.0" fill="#ff50ff"/>
<rect x="599.0" y="503.0" width="1.0" height="2.0" fill="#ff50ff"/>
<rect x="598.0" y="507.0" width="1.0" height="2.0" fill="#ff50ff"/>
<rect x="596.0" y="501.0" width="1.0" height="2.0" fill="#ff50ff"/>
<rect x="599.0" y="503.0" width="1.0" height="2.0" fill="#ff50ff"/>
<rect x="597.0" y="506.0" width="1.0" height="2.0" fill="#ff50ff"/>
<rect x="599.0" y="497.0" width="1.0" height="2.0" fill="#ff50ff"/>
<rect x="598.0" y="509.0" width="1.0" height="2.0" fill="#ff50ff"/>
<rect x="596.0" y="507.0" width="1.0" height="3.0" fill="#0000ff"/>
<rect x="597.0" y="509.0" width="1.0" height="2.0" fill="#0000ff"/>
<rect x="619.0" y="399.0" width="1.0" height="1.0" fill="#ff50ff"/>
<rect x="623.0" y="398.0" width="1.0" height="1.0" fill="#ff50ff"/>
<rect x="622.0" y="432.0" width="1.0" height="1.0" fill="#ff50ff"/>
<rect x="632.0" y="433.0" width="1.0" height="1.0" fill="#ff50ff"/>
<rect x="633.0" y="431.0" width="1.0" height="1.0" fill="#ff50ff"/>
<rect x="635.0" y="430.0" width="1.0" height="1.0" fill="#ff50ff"/>
<rect x="635.0" y="433.0" width="1.0" height="1.0" fill="#ff50ff"/>
<rect x="637.0" y="433.0" width="1.0" height="1.0" fill="#ff50ff"/>
<rect x="641.0" y="433.0" width="1.0" height="1.0" fill="#ff50ff"/>
<rect x="643.0" y="433.0" width="1.0" height="1.0" fill="#ff50ff"/>
<rect x="644.0" y="433.0" width="1.0" height="1.0" fill="#ff50ff"/>
<rect x="627.0" y="433.0" width="1.0" height="1.0" fill="#0000ff"/>
</g>
<rect x="595.5" y="273.5" width="93" height="436" fill="none" stroke="#000" stroke-width="1" shape-rendering="crispEdges"/>
<text x="589.2" y="276.9" font-size="10.75" text-anchor="end" >400</text>
<rect x="595" y="327" width="6" height="1" fill="#000"/>
<text x="589.2" y="331.4" font-size="10.75" text-anchor="end" >300</text>
<rect x="595" y="382" width="6" height="1" fill="#000"/>
<text x="589.2" y="385.9" font-size="10.75" text-anchor="end" >200</text>
<rect x="595" y="436" width="6" height="1" fill="#000"/>
<text x="589.2" y="440.4" font-size="10.75" text-anchor="end" >100</text>
<rect x="595" y="491" width="6" height="1" fill="#000"/>
<text x="589.2" y="494.9" font-size="10.75" text-anchor="end" >0</text>
<rect x="595" y="545" width="6" height="1" fill="#000"/>
<text x="589.2" y="549.4" font-size="10.75" text-anchor="end" >−100</text>
<rect x="595" y="600" width="6" height="1" fill="#000"/>
<text x="589.2" y="603.9" font-size="10.75" text-anchor="end" >−200</text>
<rect x="595" y="654" width="6" height="1" fill="#000"/>
<text x="589.2" y="658.4" font-size="10.75" text-anchor="end" >−300</text>
<text x="589.2" y="712.9" font-size="10.75" text-anchor="end" >−400</text>
<text x="595.5" y="722.3" font-size="10.75" text-anchor="middle" >0</text>
<rect x="641" y="704" width="1" height="5" fill="#000"/>
<text x="641.5" y="722.3" font-size="10.75" text-anchor="middle" >10</text>
<text x="688.5" y="722.3" font-size="10.75" text-anchor="middle" >20</text>
<text x="641.2" y="741.0" font-size="11.1" text-anchor="middle" >Altitude, km</text>
<text x="700.4" y="492.0" font-size="11.1" text-anchor="middle" transform="rotate(-90 700.4 492.0)" >North-South, km</text>
<g shape-rendering="crispEdges">
<rect x="68.50" y="763.5" width="22.31" height="25" fill="#ff50ff"/>
<rect x="90.51" y="763.5" width="23.91" height="25" fill="#8000ff"/>
<rect x="114.12" y="763.5" width="23.91" height="25" fill="#8000ff"/>
<rect x="137.73" y="763.5" width="23.91" height="25" fill="#0000ff"/>
<rect x="161.34" y="763.5" width="23.91" height="25" fill="#0000ff"/>
<rect x="184.95" y="763.5" width="23.91" height="25" fill="#0080ff"/>
<rect x="208.56" y="763.5" width="23.91" height="25" fill="#00ffff"/>
<rect x="232.17" y="763.5" width="23.91" height="25" fill="#00ff00"/>
<rect x="255.78" y="763.5" width="23.91" height="25" fill="#008040"/>
<rect x="279.39" y="763.5" width="23.91" height="25" fill="#408080"/>
<rect x="303.00" y="763.5" width="23.91" height="25" fill="#ffff00"/>
<rect x="326.61" y="763.5" width="23.91" height="25" fill="#ffc080"/>
<rect x="350.22" y="763.5" width="23.91" height="25" fill="#ff8000"/>
<rect x="373.83" y="763.5" width="23.91" height="25" fill="#ff0080"/>
<rect x="397.44" y="763.5" width="23.91" height="25" fill="#ff0000"/>
<rect x="421.05" y="763.5" width="23.91" height="25" fill="#c00000"/>
<rect x="444.66" y="763.5" width="23.91" height="25" fill="#800000"/>
<rect x="468.27" y="763.5" width="23.91" height="25" fill="#000000"/>
<rect x="491.88" y="763.5" width="23.91" height="25" fill="#808080"/>
<rect x="515.49" y="763.5" width="23.91" height="25" fill="#c0c0c0"/>
<rect x="539.10" y="763.5" width="25.40" height="25" fill="#ffffff"/>
</g>
<rect x="68.5" y="763.5" width="496" height="25" fill="none" stroke="#000" stroke-width="1" shape-rendering="crispEdges"/>
<rect x="142" y="785" width="1" height="3" fill="#000"/>
<rect x="186" y="785" width="1" height="3" fill="#000"/>
<rect x="217" y="785" width="1" height="3" fill="#000"/>
<rect x="241" y="785" width="1" height="3" fill="#000"/>
<rect x="261" y="785" width="1" height="3" fill="#000"/>
<rect x="277" y="785" width="1" height="3" fill="#000"/>
<rect x="292" y="785" width="1" height="3" fill="#000"/>
<rect x="305" y="785" width="1" height="3" fill="#000"/>
<rect x="391" y="785" width="1" height="3" fill="#000"/>
<rect x="434" y="785" width="1" height="3" fill="#000"/>
<rect x="465" y="785" width="1" height="3" fill="#000"/>
<rect x="489" y="785" width="1" height="3" fill="#000"/>
<rect x="509" y="785" width="1" height="3" fill="#000"/>
<rect x="526" y="785" width="1" height="3" fill="#000"/>
<rect x="540" y="785" width="1" height="3" fill="#000"/>
<rect x="553" y="785" width="1" height="3" fill="#000"/>
<rect x="316" y="784" width="1" height="5" fill="#000"/>
<text x="67.0" y="802.0" font-size="10.75" text-anchor="middle" >1</text>
<text x="315.5" y="802.0" font-size="10.75" text-anchor="middle" >10</text>
<text x="563.3" y="802.0" font-size="10.75" text-anchor="middle" >100</text>
<text x="641.2" y="783.8" font-size="16.2" text-anchor="middle" >Sources/7 km²</text>
</svg>
</body></html>
